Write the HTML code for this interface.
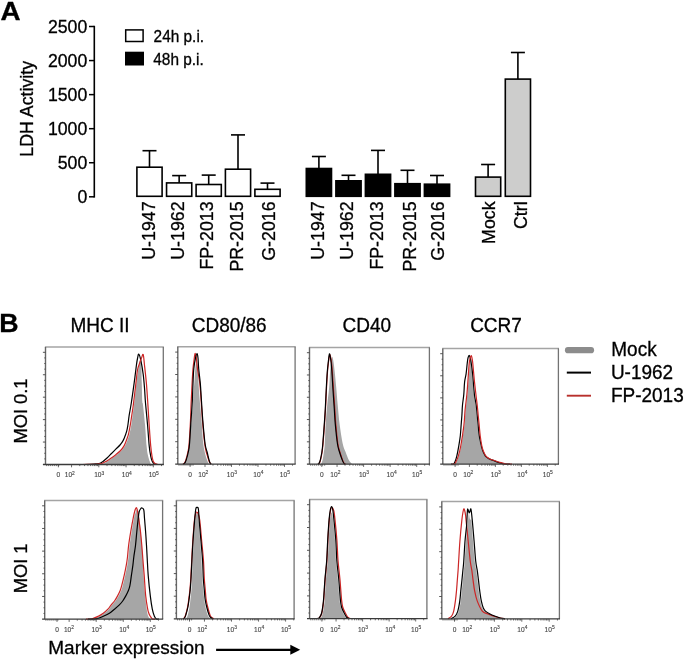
<!DOCTYPE html>
<html><head><meta charset="utf-8"><style>
html,body{margin:0;padding:0;background:#fff;}
body{width:685px;height:660px;overflow:hidden;}
svg{display:block;filter:blur(0.3px);font-family:"Liberation Sans",sans-serif;}
svg text{stroke:#000;stroke-width:.3px;}
svg g.tl text{stroke:#444;stroke-width:.12px;}
</style></head><body>
<svg width="685" height="660" viewBox="0 0 685 660">
<text transform="translate(0.5 19.5) scale(1.07 1)" font-size="26" font-weight="bold">A</text>
<line x1="94.30" y1="25.80" x2="94.30" y2="197.60" stroke="#000" stroke-width="1.6"/>
<line x1="89" y1="196.80" x2="94.30" y2="196.80" stroke="#000" stroke-width="1.5"/>
<text x="87.3" y="203.10" font-size="17.7" text-anchor="end">0</text>
<line x1="89" y1="162.74" x2="94.30" y2="162.74" stroke="#000" stroke-width="1.5"/>
<text x="87.3" y="169.04" font-size="17.7" text-anchor="end">500</text>
<line x1="89" y1="128.68" x2="94.30" y2="128.68" stroke="#000" stroke-width="1.5"/>
<text x="87.3" y="134.98" font-size="17.7" text-anchor="end">1000</text>
<line x1="89" y1="94.62" x2="94.30" y2="94.62" stroke="#000" stroke-width="1.5"/>
<text x="87.3" y="100.92" font-size="17.7" text-anchor="end">1500</text>
<line x1="89" y1="60.56" x2="94.30" y2="60.56" stroke="#000" stroke-width="1.5"/>
<text x="87.3" y="66.86" font-size="17.7" text-anchor="end">2000</text>
<line x1="89" y1="26.50" x2="94.30" y2="26.50" stroke="#000" stroke-width="1.5"/>
<text x="87.3" y="32.80" font-size="17.7" text-anchor="end">2500</text>
<text transform="translate(32.6 108.8) rotate(-90)" font-size="17.8" text-anchor="middle">LDH Activity</text>
<rect x="125.7" y="29.9" width="17.4" height="11.6" fill="#fff" stroke="#000" stroke-width="1.5"/>
<rect x="125" y="51.7" width="19" height="13.8" fill="#000"/>
<text transform="translate(153.6 41.6) scale(1 1.06)" font-size="15.4">24h p.i.</text>
<text transform="translate(153.3 64.5) scale(1 1.06)" font-size="15.4">48h p.i.</text>
<line x1="149.50" y1="150.70" x2="149.50" y2="167.20" stroke="#000" stroke-width="1.60"/><line x1="142.50" y1="150.70" x2="156.50" y2="150.70" stroke="#000" stroke-width="1.60"/><rect x="136.90" y="167.20" width="25.20" height="29.10" fill="#fff" stroke="#000" stroke-width="1.60"/>
<line x1="179.15" y1="175.60" x2="179.15" y2="182.90" stroke="#000" stroke-width="1.60"/><line x1="172.15" y1="175.60" x2="186.15" y2="175.60" stroke="#000" stroke-width="1.60"/><rect x="166.55" y="182.90" width="25.20" height="13.40" fill="#fff" stroke="#000" stroke-width="1.60"/>
<line x1="208.70" y1="175.10" x2="208.70" y2="184.50" stroke="#000" stroke-width="1.60"/><line x1="201.70" y1="175.10" x2="215.70" y2="175.10" stroke="#000" stroke-width="1.60"/><rect x="196.10" y="184.50" width="25.20" height="11.80" fill="#fff" stroke="#000" stroke-width="1.60"/>
<line x1="238.00" y1="134.90" x2="238.00" y2="169.20" stroke="#000" stroke-width="1.60"/><line x1="231.00" y1="134.90" x2="245.00" y2="134.90" stroke="#000" stroke-width="1.60"/><rect x="225.40" y="169.20" width="25.20" height="27.10" fill="#fff" stroke="#000" stroke-width="1.60"/>
<line x1="267.50" y1="183.10" x2="267.50" y2="189.30" stroke="#000" stroke-width="1.60"/><line x1="260.50" y1="183.10" x2="274.50" y2="183.10" stroke="#000" stroke-width="1.60"/><rect x="254.90" y="189.30" width="25.20" height="7.00" fill="#fff" stroke="#000" stroke-width="1.60"/>
<line x1="318.90" y1="156.50" x2="318.90" y2="168.50" stroke="#000" stroke-width="1.60"/><line x1="311.90" y1="156.50" x2="325.90" y2="156.50" stroke="#000" stroke-width="1.60"/><rect x="306.30" y="168.50" width="25.20" height="27.80" fill="#000" stroke="#000" stroke-width="1.60"/>
<line x1="348.50" y1="175.30" x2="348.50" y2="180.80" stroke="#000" stroke-width="1.60"/><line x1="341.50" y1="175.30" x2="355.50" y2="175.30" stroke="#000" stroke-width="1.60"/><rect x="335.90" y="180.80" width="25.20" height="15.50" fill="#000" stroke="#000" stroke-width="1.60"/>
<line x1="378.00" y1="150.40" x2="378.00" y2="174.30" stroke="#000" stroke-width="1.60"/><line x1="371.00" y1="150.40" x2="385.00" y2="150.40" stroke="#000" stroke-width="1.60"/><rect x="365.40" y="174.30" width="25.20" height="22.00" fill="#000" stroke="#000" stroke-width="1.60"/>
<line x1="407.50" y1="170.30" x2="407.50" y2="183.70" stroke="#000" stroke-width="1.60"/><line x1="400.50" y1="170.30" x2="414.50" y2="170.30" stroke="#000" stroke-width="1.60"/><rect x="394.90" y="183.70" width="25.20" height="12.60" fill="#000" stroke="#000" stroke-width="1.60"/>
<line x1="437.00" y1="175.50" x2="437.00" y2="184.20" stroke="#000" stroke-width="1.60"/><line x1="430.00" y1="175.50" x2="444.00" y2="175.50" stroke="#000" stroke-width="1.60"/><rect x="424.40" y="184.20" width="25.20" height="12.10" fill="#000" stroke="#000" stroke-width="1.60"/>
<line x1="488.10" y1="164.50" x2="488.10" y2="177.10" stroke="#000" stroke-width="1.60"/><line x1="481.10" y1="164.50" x2="495.10" y2="164.50" stroke="#000" stroke-width="1.60"/><rect x="475.50" y="177.10" width="25.20" height="19.20" fill="#cdcdcc" stroke="#000" stroke-width="1.60"/>
<line x1="517.90" y1="52.50" x2="517.90" y2="79.10" stroke="#000" stroke-width="1.60"/><line x1="510.90" y1="52.50" x2="524.90" y2="52.50" stroke="#000" stroke-width="1.60"/><rect x="505.30" y="79.10" width="25.20" height="117.20" fill="#cdcdcc" stroke="#000" stroke-width="1.60"/>
<text transform="translate(154.50 201.4) rotate(-90)" font-size="17.8" text-anchor="end">U-1947</text>
<text transform="translate(183.60 201.4) rotate(-90)" font-size="17.8" text-anchor="end">U-1962</text>
<text transform="translate(213.10 201.4) rotate(-90)" font-size="17.8" text-anchor="end">FP-2013</text>
<text transform="translate(242.90 201.4) rotate(-90)" font-size="17.8" text-anchor="end">PR-2015</text>
<text transform="translate(275.00 201.4) rotate(-90)" font-size="17.8" text-anchor="end">G-2016</text>
<text transform="translate(324.00 201.4) rotate(-90)" font-size="17.8" text-anchor="end">U-1947</text>
<text transform="translate(353.00 201.4) rotate(-90)" font-size="17.8" text-anchor="end">U-1962</text>
<text transform="translate(383.10 201.4) rotate(-90)" font-size="17.8" text-anchor="end">FP-2013</text>
<text transform="translate(416.00 201.4) rotate(-90)" font-size="17.8" text-anchor="end">PR-2015</text>
<text transform="translate(444.40 201.4) rotate(-90)" font-size="17.8" text-anchor="end">G-2016</text>
<text transform="translate(494.60 201.4) rotate(-90)" font-size="17.8" text-anchor="end">Mock</text>
<text transform="translate(526.80 201.4) rotate(-90)" font-size="17.8" text-anchor="end">Ctrl</text>
<text transform="translate(-0.7 332.2) scale(1.03 1)" font-size="26" font-weight="bold">B</text>
<text transform="translate(100 332.1) scale(1 1.04)" font-size="19" text-anchor="middle">MHC II</text>
<text transform="translate(229.2 332.1) scale(1 1.04)" font-size="19" text-anchor="middle">CD80/86</text>
<text transform="translate(366.8 332.1) scale(1 1.04)" font-size="19" text-anchor="middle">CD40</text>
<text transform="translate(496 332.1) scale(1 1.04)" font-size="19" text-anchor="middle">CCR7</text>
<text transform="translate(26.8 411) rotate(-90)" font-size="18.3" text-anchor="middle">MOI 0.1</text>
<text transform="translate(26.9 568.4) rotate(-90)" font-size="18.3" text-anchor="middle">MOI 1</text>
<line x1="568" y1="350.2" x2="591" y2="350.2" stroke="#8c8c8c" stroke-width="6.2" stroke-linecap="round"/>
<line x1="566.8" y1="372.6" x2="591" y2="372.6" stroke="#000" stroke-width="2"/>
<line x1="566.8" y1="395.7" x2="591" y2="395.7" stroke="#b8302c" stroke-width="1.9"/>
<text transform="translate(611.3 355.7) scale(1 1.06)" font-size="19">Mock</text>
<text transform="translate(610.9 378.8) scale(1 1.06)" font-size="19">U-1962</text>
<text transform="translate(610.9 401.5) scale(1 1.06)" font-size="19">FP-2013</text>
<text x="48.3" y="654.1" font-size="19">Marker expression</text>
<line x1="216.1" y1="649.8" x2="292" y2="649.8" stroke="#000" stroke-width="2.2"/>
<path d="M290.3 644.8 L300.2 649.8 L290.3 654.8 Z" fill="#000"/>
<rect x="45.50" y="347.00" width="117.80" height="117.50" fill="#fff" stroke="none"/>
<path d="M86.00 464.50 C87.67 464.45 93.20 464.37 96.00 464.20 C98.80 464.03 100.97 463.97 102.80 463.50 C104.63 463.03 105.48 462.27 107.00 461.40 C108.52 460.53 110.27 459.42 111.90 458.30 C113.53 457.18 115.18 456.00 116.80 454.70 C118.42 453.40 120.20 452.02 121.60 450.50 C123.00 448.98 124.18 447.43 125.20 445.60 C126.22 443.77 126.98 441.42 127.70 439.50 C128.42 437.58 128.90 436.52 129.50 434.10 C130.10 431.68 130.78 428.15 131.30 425.00 C131.82 421.85 132.15 418.53 132.60 415.20 C133.05 411.87 133.37 410.30 134.00 405.00 C134.63 399.70 135.70 389.23 136.40 383.40 C137.10 377.57 137.68 373.57 138.20 370.00 C138.72 366.43 139.12 363.83 139.50 362.00 C139.88 360.17 140.20 358.83 140.50 359.00 C140.80 359.17 141.08 358.93 141.30 363.00 C141.52 367.07 141.63 376.98 141.80 383.40 C141.97 389.82 142.10 397.90 142.30 401.50 C142.50 405.10 142.53 401.02 143.00 405.00 C143.47 408.98 144.50 418.58 145.10 425.40 C145.70 432.22 146.10 440.78 146.60 445.90 C147.10 451.02 147.42 453.12 148.10 456.10 C148.78 459.08 150.05 462.40 150.70 463.80 C151.35 465.20 151.78 464.38 152.00 464.50 Z" fill="#a6a6a6"/>
<path d="M80.00 464.50 C81.67 464.47 87.33 464.40 90.00 464.30 C92.67 464.20 94.33 464.07 96.00 463.90 C97.67 463.73 98.83 463.72 100.00 463.30 C101.17 462.88 101.78 462.33 103.00 461.40 C104.22 460.47 105.88 459.02 107.30 457.70 C108.72 456.38 110.08 454.92 111.50 453.50 C112.92 452.08 114.38 450.62 115.80 449.20 C117.22 447.78 118.88 446.27 120.00 445.00 C121.12 443.73 121.80 442.72 122.50 441.60 C123.20 440.48 123.50 440.05 124.20 438.30 C124.90 436.55 126.08 433.32 126.70 431.10 C127.32 428.88 127.48 427.65 127.90 425.00 C128.32 422.35 128.63 418.87 129.20 415.20 C129.77 411.53 130.48 408.30 131.30 403.00 C132.12 397.70 133.25 389.70 134.10 383.40 C134.95 377.10 135.82 369.43 136.40 365.20 C136.98 360.97 137.20 359.85 137.60 358.00 C138.00 356.15 138.25 353.67 138.80 354.10 C139.35 354.53 140.17 357.23 140.90 360.60 C141.63 363.97 142.60 369.75 143.20 374.30 C143.80 378.85 144.12 383.12 144.50 387.90 C144.88 392.68 144.98 396.75 145.50 403.00 C146.02 409.25 146.98 418.25 147.60 425.40 C148.22 432.55 148.68 440.78 149.20 445.90 C149.72 451.02 150.20 453.55 150.70 456.10 C151.20 458.65 151.60 459.92 152.20 461.20 C152.80 462.48 153.50 463.25 154.30 463.80 C155.10 464.35 156.55 464.38 157.00 464.50" fill="none" stroke="#000" stroke-width="1.2" stroke-linejoin="round"/>
<path d="M82.00 464.50 C83.67 464.47 89.33 464.38 92.00 464.30 C94.67 464.22 96.37 464.13 98.00 464.00 C99.63 463.87 100.47 463.93 101.80 463.50 C103.13 463.07 104.48 462.27 106.00 461.40 C107.52 460.53 109.27 459.42 110.90 458.30 C112.53 457.18 114.18 456.00 115.80 454.70 C117.42 453.40 119.20 452.02 120.60 450.50 C122.00 448.98 123.18 447.43 124.20 445.60 C125.22 443.77 125.98 441.42 126.70 439.50 C127.42 437.58 127.90 436.52 128.50 434.10 C129.10 431.68 129.75 428.15 130.30 425.00 C130.85 421.85 131.30 418.53 131.80 415.20 C132.30 411.87 132.62 410.30 133.30 405.00 C133.98 399.70 135.20 389.23 135.90 383.40 C136.60 377.57 136.90 373.33 137.50 370.00 C138.10 366.67 138.83 365.40 139.50 363.40 C140.17 361.40 140.88 359.48 141.50 358.00 C142.12 356.52 142.70 353.30 143.20 354.50 C143.70 355.70 143.97 360.38 144.50 365.20 C145.03 370.02 145.87 377.35 146.40 383.40 C146.93 389.45 147.23 394.50 147.70 401.50 C148.17 408.50 148.70 418.00 149.20 425.40 C149.70 432.80 150.23 440.78 150.70 445.90 C151.17 451.02 151.58 453.55 152.00 456.10 C152.42 458.65 152.65 459.92 153.20 461.20 C153.75 462.48 154.50 463.25 155.30 463.80 C156.10 464.35 157.55 464.38 158.00 464.50" fill="none" stroke="#cc2626" stroke-width="1.2" stroke-linejoin="round"/>
<line x1="44.90" y1="347.00" x2="163.90" y2="347.00" stroke="#a4a4a4" stroke-width="1.5"/>
<line x1="163.30" y1="347.00" x2="163.30" y2="464.50" stroke="#737373" stroke-width="1.3"/>
<line x1="45.50" y1="347.00" x2="45.50" y2="464.50" stroke="#666" stroke-width="1.4"/>
<line x1="42.90" y1="464.50" x2="163.90" y2="464.50" stroke="#3a3a3a" stroke-width="1.3"/>
<line x1="42.90" y1="352.30" x2="45.50" y2="352.30" stroke="#444" stroke-width="0.9"/>
<line x1="44.30" y1="357.91" x2="45.50" y2="357.91" stroke="#444" stroke-width="0.9"/>
<line x1="44.30" y1="363.52" x2="45.50" y2="363.52" stroke="#444" stroke-width="0.9"/>
<line x1="44.30" y1="369.13" x2="45.50" y2="369.13" stroke="#444" stroke-width="0.9"/>
<line x1="42.90" y1="374.74" x2="45.50" y2="374.74" stroke="#444" stroke-width="0.9"/>
<line x1="44.30" y1="380.35" x2="45.50" y2="380.35" stroke="#444" stroke-width="0.9"/>
<line x1="44.30" y1="385.96" x2="45.50" y2="385.96" stroke="#444" stroke-width="0.9"/>
<line x1="44.30" y1="391.57" x2="45.50" y2="391.57" stroke="#444" stroke-width="0.9"/>
<line x1="42.90" y1="397.18" x2="45.50" y2="397.18" stroke="#444" stroke-width="0.9"/>
<line x1="44.30" y1="402.79" x2="45.50" y2="402.79" stroke="#444" stroke-width="0.9"/>
<line x1="44.30" y1="408.40" x2="45.50" y2="408.40" stroke="#444" stroke-width="0.9"/>
<line x1="44.30" y1="414.01" x2="45.50" y2="414.01" stroke="#444" stroke-width="0.9"/>
<line x1="42.90" y1="419.62" x2="45.50" y2="419.62" stroke="#444" stroke-width="0.9"/>
<line x1="44.30" y1="425.23" x2="45.50" y2="425.23" stroke="#444" stroke-width="0.9"/>
<line x1="44.30" y1="430.84" x2="45.50" y2="430.84" stroke="#444" stroke-width="0.9"/>
<line x1="44.30" y1="436.45" x2="45.50" y2="436.45" stroke="#444" stroke-width="0.9"/>
<line x1="42.90" y1="442.06" x2="45.50" y2="442.06" stroke="#444" stroke-width="0.9"/>
<line x1="44.30" y1="447.67" x2="45.50" y2="447.67" stroke="#444" stroke-width="0.9"/>
<line x1="44.30" y1="453.28" x2="45.50" y2="453.28" stroke="#444" stroke-width="0.9"/>
<line x1="44.30" y1="458.89" x2="45.50" y2="458.89" stroke="#444" stroke-width="0.9"/>
<line x1="46.70" y1="464.50" x2="46.70" y2="466.10" stroke="#444" stroke-width="0.8"/>
<line x1="48.70" y1="464.50" x2="48.70" y2="466.10" stroke="#444" stroke-width="0.8"/>
<line x1="50.70" y1="464.50" x2="50.70" y2="466.10" stroke="#444" stroke-width="0.8"/>
<line x1="52.70" y1="464.50" x2="52.70" y2="466.10" stroke="#444" stroke-width="0.8"/>
<line x1="54.70" y1="464.50" x2="54.70" y2="466.10" stroke="#444" stroke-width="0.8"/>
<line x1="56.70" y1="464.50" x2="56.70" y2="466.10" stroke="#444" stroke-width="0.8"/>
<line x1="58.70" y1="464.50" x2="58.70" y2="466.10" stroke="#444" stroke-width="0.8"/>
<line x1="58.40" y1="464.50" x2="58.40" y2="467.30" stroke="#444" stroke-width="0.8"/>
<line x1="71.55" y1="464.50" x2="71.55" y2="467.30" stroke="#444" stroke-width="0.8"/>
<line x1="79.75" y1="464.50" x2="79.75" y2="466.10" stroke="#444" stroke-width="0.8"/>
<line x1="84.55" y1="464.50" x2="84.55" y2="466.10" stroke="#444" stroke-width="0.8"/>
<line x1="87.96" y1="464.50" x2="87.96" y2="466.10" stroke="#444" stroke-width="0.8"/>
<line x1="90.60" y1="464.50" x2="90.60" y2="466.10" stroke="#444" stroke-width="0.8"/>
<line x1="92.75" y1="464.50" x2="92.75" y2="466.10" stroke="#444" stroke-width="0.8"/>
<line x1="94.58" y1="464.50" x2="94.58" y2="466.10" stroke="#444" stroke-width="0.8"/>
<line x1="96.16" y1="464.50" x2="96.16" y2="466.10" stroke="#444" stroke-width="0.8"/>
<line x1="97.55" y1="464.50" x2="97.55" y2="466.10" stroke="#444" stroke-width="0.8"/>
<line x1="98.80" y1="464.50" x2="98.80" y2="467.30" stroke="#444" stroke-width="0.8"/>
<line x1="107.00" y1="464.50" x2="107.00" y2="466.10" stroke="#444" stroke-width="0.8"/>
<line x1="111.80" y1="464.50" x2="111.80" y2="466.10" stroke="#444" stroke-width="0.8"/>
<line x1="115.21" y1="464.50" x2="115.21" y2="466.10" stroke="#444" stroke-width="0.8"/>
<line x1="117.85" y1="464.50" x2="117.85" y2="466.10" stroke="#444" stroke-width="0.8"/>
<line x1="120.00" y1="464.50" x2="120.00" y2="466.10" stroke="#444" stroke-width="0.8"/>
<line x1="121.83" y1="464.50" x2="121.83" y2="466.10" stroke="#444" stroke-width="0.8"/>
<line x1="123.41" y1="464.50" x2="123.41" y2="466.10" stroke="#444" stroke-width="0.8"/>
<line x1="124.80" y1="464.50" x2="124.80" y2="466.10" stroke="#444" stroke-width="0.8"/>
<line x1="126.05" y1="464.50" x2="126.05" y2="467.30" stroke="#444" stroke-width="0.8"/>
<line x1="134.25" y1="464.50" x2="134.25" y2="466.10" stroke="#444" stroke-width="0.8"/>
<line x1="139.05" y1="464.50" x2="139.05" y2="466.10" stroke="#444" stroke-width="0.8"/>
<line x1="142.46" y1="464.50" x2="142.46" y2="466.10" stroke="#444" stroke-width="0.8"/>
<line x1="145.10" y1="464.50" x2="145.10" y2="466.10" stroke="#444" stroke-width="0.8"/>
<line x1="147.25" y1="464.50" x2="147.25" y2="466.10" stroke="#444" stroke-width="0.8"/>
<line x1="149.08" y1="464.50" x2="149.08" y2="466.10" stroke="#444" stroke-width="0.8"/>
<line x1="150.66" y1="464.50" x2="150.66" y2="466.10" stroke="#444" stroke-width="0.8"/>
<line x1="152.05" y1="464.50" x2="152.05" y2="466.10" stroke="#444" stroke-width="0.8"/>
<line x1="153.30" y1="464.50" x2="153.30" y2="467.30" stroke="#444" stroke-width="0.8"/>
<line x1="161.50" y1="464.50" x2="161.50" y2="466.10" stroke="#444" stroke-width="0.8"/>
<g class="tl" font-size="6.6" fill="#444" text-anchor="middle">
<text x="58.40" y="477.40">0</text>
<text x="69.80" y="477.40">10<tspan font-size="4.9" dy="-2.9">2</tspan></text>
<text x="99.20" y="477.40">10<tspan font-size="4.9" dy="-2.9">3</tspan></text>
<text x="126.80" y="477.40">10<tspan font-size="4.9" dy="-2.9">4</tspan></text>
<text x="153.70" y="477.40">10<tspan font-size="4.9" dy="-2.9">5</tspan></text>
</g>
<rect x="177.80" y="346.80" width="117.30" height="117.30" fill="#fff" stroke="none"/>
<path d="M184.50 464.10 C184.83 463.58 185.85 463.02 186.50 461.00 C187.15 458.98 187.87 455.30 188.40 452.00 C188.93 448.70 189.18 446.53 189.70 441.20 C190.22 435.87 190.95 426.87 191.50 420.00 C192.05 413.13 192.50 406.67 193.00 400.00 C193.50 393.33 194.08 385.67 194.50 380.00 C194.92 374.33 195.20 369.00 195.50 366.00 C195.80 363.00 196.02 362.00 196.30 362.00 C196.58 362.00 196.87 363.00 197.20 366.00 C197.53 369.00 197.88 374.33 198.30 380.00 C198.72 385.67 199.17 393.33 199.70 400.00 C200.23 406.67 200.95 413.13 201.50 420.00 C202.05 426.87 202.47 435.87 203.00 441.20 C203.53 446.53 204.02 448.85 204.70 452.00 C205.38 455.15 206.42 458.08 207.10 460.10 C207.78 462.12 208.52 463.43 208.80 464.10 Z" fill="#a6a6a6"/>
<path d="M182.80 464.10 C183.03 463.98 183.70 464.07 184.20 463.40 C184.70 462.73 185.18 462.00 185.80 460.10 C186.42 458.20 187.35 454.68 187.90 452.00 C188.45 449.32 188.67 449.23 189.10 444.00 C189.53 438.77 190.15 427.68 190.50 420.60 C190.85 413.52 190.93 407.70 191.20 401.50 C191.47 395.30 191.80 388.85 192.10 383.40 C192.40 377.95 192.63 373.03 193.00 368.80 C193.37 364.57 193.95 360.57 194.30 358.00 C194.65 355.43 194.77 353.40 195.10 353.40 C195.43 353.40 195.90 355.43 196.30 358.00 C196.70 360.57 196.92 364.57 197.50 368.80 C198.08 373.03 199.18 377.95 199.80 383.40 C200.42 388.85 200.75 395.30 201.20 401.50 C201.65 407.70 201.95 413.85 202.50 420.60 C203.05 427.35 203.95 437.10 204.50 442.00 C205.05 446.90 205.28 447.58 205.80 450.00 C206.32 452.42 207.02 454.53 207.60 456.50 C208.18 458.47 208.73 460.53 209.30 461.80 C209.87 463.07 210.72 463.72 211.00 464.10" fill="none" stroke="#cc2626" stroke-width="1.2" stroke-linejoin="round"/>
<path d="M183.20 464.10 C183.43 463.98 184.10 464.07 184.60 463.40 C185.10 462.73 185.58 462.00 186.20 460.10 C186.82 458.20 187.75 454.68 188.30 452.00 C188.85 449.32 189.05 449.23 189.50 444.00 C189.95 438.77 190.53 427.68 191.00 420.60 C191.47 413.52 191.97 407.70 192.30 401.50 C192.63 395.30 192.75 388.85 193.00 383.40 C193.25 377.95 193.38 373.03 193.80 368.80 C194.22 364.57 194.95 360.55 195.50 358.00 C196.05 355.45 196.68 353.50 197.10 353.50 C197.52 353.50 197.73 355.45 198.00 358.00 C198.27 360.55 198.32 364.57 198.70 368.80 C199.08 373.03 199.83 377.95 200.30 383.40 C200.77 388.85 201.08 395.30 201.50 401.50 C201.92 407.70 202.20 413.52 202.80 420.60 C203.40 427.68 204.38 438.77 205.10 444.00 C205.82 449.23 206.43 449.32 207.10 452.00 C207.77 454.68 208.58 458.23 209.10 460.10 C209.62 461.97 209.85 462.53 210.20 463.20 C210.55 463.87 211.03 463.95 211.20 464.10" fill="none" stroke="#000" stroke-width="1.2" stroke-linejoin="round"/>
<line x1="177.20" y1="346.80" x2="295.70" y2="346.80" stroke="#a4a4a4" stroke-width="1.5"/>
<line x1="295.10" y1="346.80" x2="295.10" y2="464.10" stroke="#737373" stroke-width="1.3"/>
<line x1="177.80" y1="346.80" x2="177.80" y2="464.10" stroke="#666" stroke-width="1.4"/>
<line x1="175.20" y1="464.10" x2="295.70" y2="464.10" stroke="#3a3a3a" stroke-width="1.3"/>
<line x1="175.20" y1="352.10" x2="177.80" y2="352.10" stroke="#444" stroke-width="0.9"/>
<line x1="176.60" y1="357.70" x2="177.80" y2="357.70" stroke="#444" stroke-width="0.9"/>
<line x1="176.60" y1="363.30" x2="177.80" y2="363.30" stroke="#444" stroke-width="0.9"/>
<line x1="176.60" y1="368.90" x2="177.80" y2="368.90" stroke="#444" stroke-width="0.9"/>
<line x1="175.20" y1="374.50" x2="177.80" y2="374.50" stroke="#444" stroke-width="0.9"/>
<line x1="176.60" y1="380.10" x2="177.80" y2="380.10" stroke="#444" stroke-width="0.9"/>
<line x1="176.60" y1="385.70" x2="177.80" y2="385.70" stroke="#444" stroke-width="0.9"/>
<line x1="176.60" y1="391.30" x2="177.80" y2="391.30" stroke="#444" stroke-width="0.9"/>
<line x1="175.20" y1="396.90" x2="177.80" y2="396.90" stroke="#444" stroke-width="0.9"/>
<line x1="176.60" y1="402.50" x2="177.80" y2="402.50" stroke="#444" stroke-width="0.9"/>
<line x1="176.60" y1="408.10" x2="177.80" y2="408.10" stroke="#444" stroke-width="0.9"/>
<line x1="176.60" y1="413.70" x2="177.80" y2="413.70" stroke="#444" stroke-width="0.9"/>
<line x1="175.20" y1="419.30" x2="177.80" y2="419.30" stroke="#444" stroke-width="0.9"/>
<line x1="176.60" y1="424.90" x2="177.80" y2="424.90" stroke="#444" stroke-width="0.9"/>
<line x1="176.60" y1="430.50" x2="177.80" y2="430.50" stroke="#444" stroke-width="0.9"/>
<line x1="176.60" y1="436.10" x2="177.80" y2="436.10" stroke="#444" stroke-width="0.9"/>
<line x1="175.20" y1="441.70" x2="177.80" y2="441.70" stroke="#444" stroke-width="0.9"/>
<line x1="176.60" y1="447.30" x2="177.80" y2="447.30" stroke="#444" stroke-width="0.9"/>
<line x1="176.60" y1="452.90" x2="177.80" y2="452.90" stroke="#444" stroke-width="0.9"/>
<line x1="176.60" y1="458.50" x2="177.80" y2="458.50" stroke="#444" stroke-width="0.9"/>
<line x1="179.00" y1="464.10" x2="179.00" y2="465.70" stroke="#444" stroke-width="0.8"/>
<line x1="181.00" y1="464.10" x2="181.00" y2="465.70" stroke="#444" stroke-width="0.8"/>
<line x1="183.00" y1="464.10" x2="183.00" y2="465.70" stroke="#444" stroke-width="0.8"/>
<line x1="185.00" y1="464.10" x2="185.00" y2="465.70" stroke="#444" stroke-width="0.8"/>
<line x1="187.00" y1="464.10" x2="187.00" y2="465.70" stroke="#444" stroke-width="0.8"/>
<line x1="189.00" y1="464.10" x2="189.00" y2="465.70" stroke="#444" stroke-width="0.8"/>
<line x1="191.00" y1="464.10" x2="191.00" y2="465.70" stroke="#444" stroke-width="0.8"/>
<line x1="193.00" y1="464.10" x2="193.00" y2="465.70" stroke="#444" stroke-width="0.8"/>
<line x1="190.10" y1="464.10" x2="190.10" y2="466.90" stroke="#444" stroke-width="0.8"/>
<line x1="205.00" y1="464.10" x2="205.00" y2="466.90" stroke="#444" stroke-width="0.8"/>
<line x1="212.98" y1="464.10" x2="212.98" y2="465.70" stroke="#444" stroke-width="0.8"/>
<line x1="217.64" y1="464.10" x2="217.64" y2="465.70" stroke="#444" stroke-width="0.8"/>
<line x1="220.95" y1="464.10" x2="220.95" y2="465.70" stroke="#444" stroke-width="0.8"/>
<line x1="223.52" y1="464.10" x2="223.52" y2="465.70" stroke="#444" stroke-width="0.8"/>
<line x1="225.62" y1="464.10" x2="225.62" y2="465.70" stroke="#444" stroke-width="0.8"/>
<line x1="227.40" y1="464.10" x2="227.40" y2="465.70" stroke="#444" stroke-width="0.8"/>
<line x1="228.93" y1="464.10" x2="228.93" y2="465.70" stroke="#444" stroke-width="0.8"/>
<line x1="230.29" y1="464.10" x2="230.29" y2="465.70" stroke="#444" stroke-width="0.8"/>
<line x1="231.50" y1="464.10" x2="231.50" y2="466.90" stroke="#444" stroke-width="0.8"/>
<line x1="239.48" y1="464.10" x2="239.48" y2="465.70" stroke="#444" stroke-width="0.8"/>
<line x1="244.14" y1="464.10" x2="244.14" y2="465.70" stroke="#444" stroke-width="0.8"/>
<line x1="247.45" y1="464.10" x2="247.45" y2="465.70" stroke="#444" stroke-width="0.8"/>
<line x1="250.02" y1="464.10" x2="250.02" y2="465.70" stroke="#444" stroke-width="0.8"/>
<line x1="252.12" y1="464.10" x2="252.12" y2="465.70" stroke="#444" stroke-width="0.8"/>
<line x1="253.90" y1="464.10" x2="253.90" y2="465.70" stroke="#444" stroke-width="0.8"/>
<line x1="255.43" y1="464.10" x2="255.43" y2="465.70" stroke="#444" stroke-width="0.8"/>
<line x1="256.79" y1="464.10" x2="256.79" y2="465.70" stroke="#444" stroke-width="0.8"/>
<line x1="258.00" y1="464.10" x2="258.00" y2="466.90" stroke="#444" stroke-width="0.8"/>
<line x1="265.98" y1="464.10" x2="265.98" y2="465.70" stroke="#444" stroke-width="0.8"/>
<line x1="270.64" y1="464.10" x2="270.64" y2="465.70" stroke="#444" stroke-width="0.8"/>
<line x1="273.95" y1="464.10" x2="273.95" y2="465.70" stroke="#444" stroke-width="0.8"/>
<line x1="276.52" y1="464.10" x2="276.52" y2="465.70" stroke="#444" stroke-width="0.8"/>
<line x1="278.62" y1="464.10" x2="278.62" y2="465.70" stroke="#444" stroke-width="0.8"/>
<line x1="280.40" y1="464.10" x2="280.40" y2="465.70" stroke="#444" stroke-width="0.8"/>
<line x1="281.93" y1="464.10" x2="281.93" y2="465.70" stroke="#444" stroke-width="0.8"/>
<line x1="283.29" y1="464.10" x2="283.29" y2="465.70" stroke="#444" stroke-width="0.8"/>
<line x1="284.50" y1="464.10" x2="284.50" y2="466.90" stroke="#444" stroke-width="0.8"/>
<line x1="292.48" y1="464.10" x2="292.48" y2="465.70" stroke="#444" stroke-width="0.8"/>
<g class="tl" font-size="6.6" fill="#444" text-anchor="middle">
<text x="190.10" y="477.00">0</text>
<text x="203.30" y="477.00">10<tspan font-size="4.9" dy="-2.9">2</tspan></text>
<text x="231.90" y="477.00">10<tspan font-size="4.9" dy="-2.9">3</tspan></text>
<text x="258.40" y="477.00">10<tspan font-size="4.9" dy="-2.9">4</tspan></text>
<text x="284.90" y="477.00">10<tspan font-size="4.9" dy="-2.9">5</tspan></text>
</g>
<rect x="309.50" y="347.40" width="119.90" height="116.70" fill="#fff" stroke="none"/>
<path d="M320.20 464.20 C320.37 464.10 320.80 464.28 321.20 463.60 C321.60 462.92 322.15 462.03 322.60 460.10 C323.05 458.17 323.53 454.68 323.90 452.00 C324.27 449.32 324.50 448.65 324.80 444.00 C325.10 439.35 325.30 430.60 325.70 424.10 C326.10 417.60 326.63 411.02 327.20 405.00 C327.77 398.98 328.62 393.55 329.10 388.00 C329.58 382.45 329.78 376.03 330.10 371.70 C330.42 367.37 330.65 364.48 331.00 362.00 C331.35 359.52 331.78 356.80 332.20 356.80 C332.62 356.80 333.08 359.52 333.50 362.00 C333.92 364.48 334.23 367.33 334.70 371.70 C335.17 376.07 335.80 382.65 336.30 388.20 C336.80 393.75 337.15 399.02 337.70 405.00 C338.25 410.98 338.75 417.60 339.60 424.10 C340.45 430.60 341.80 439.35 342.80 444.00 C343.80 448.65 344.60 449.32 345.60 452.00 C346.60 454.68 347.82 458.20 348.80 460.10 C349.78 462.00 350.72 462.72 351.50 463.40 C352.28 464.08 353.17 464.07 353.50 464.20 Z" fill="#a6a6a6"/>
<path d="M318.10 464.20 C318.27 464.10 318.70 464.28 319.10 463.60 C319.50 462.92 320.00 462.03 320.50 460.10 C321.00 458.17 321.68 454.68 322.10 452.00 C322.52 449.32 322.60 448.65 323.00 444.00 C323.40 439.35 324.08 429.95 324.50 424.10 C324.92 418.25 325.17 414.88 325.50 408.90 C325.83 402.92 326.17 394.40 326.50 388.20 C326.83 382.00 327.17 376.07 327.50 371.70 C327.83 367.33 328.15 364.78 328.50 362.00 C328.85 359.22 329.25 355.83 329.60 355.00 C329.95 354.17 330.28 355.75 330.60 357.00 C330.92 358.25 331.22 360.05 331.50 362.50 C331.78 364.95 331.98 367.42 332.30 371.70 C332.62 375.98 332.98 382.00 333.40 388.20 C333.82 394.40 334.40 402.92 334.80 408.90 C335.20 414.88 335.28 418.25 335.80 424.10 C336.32 429.95 337.22 439.35 337.90 444.00 C338.58 448.65 339.12 449.32 339.90 452.00 C340.68 454.68 341.87 458.18 342.60 460.10 C343.33 462.02 343.80 462.82 344.30 463.50 C344.80 464.18 345.38 464.08 345.60 464.20" fill="none" stroke="#cc2626" stroke-width="1.2" stroke-linejoin="round"/>
<path d="M317.90 464.20 C318.07 464.10 318.50 464.28 318.90 463.60 C319.30 462.92 319.80 462.03 320.30 460.10 C320.80 458.17 321.48 454.68 321.90 452.00 C322.32 449.32 322.40 448.65 322.80 444.00 C323.20 439.35 323.88 429.95 324.30 424.10 C324.72 418.25 324.97 414.88 325.30 408.90 C325.63 402.92 325.97 394.40 326.30 388.20 C326.63 382.00 326.97 376.07 327.30 371.70 C327.63 367.33 327.95 364.95 328.30 362.00 C328.65 359.05 329.07 354.83 329.40 354.00 C329.73 353.17 330.02 355.58 330.30 357.00 C330.58 358.42 330.83 360.05 331.10 362.50 C331.37 364.95 331.60 367.42 331.90 371.70 C332.20 375.98 332.50 382.00 332.90 388.20 C333.30 394.40 333.90 402.92 334.30 408.90 C334.70 414.88 334.77 418.25 335.30 424.10 C335.83 429.95 336.80 439.35 337.50 444.00 C338.20 448.65 338.70 449.32 339.50 452.00 C340.30 454.68 341.55 458.18 342.30 460.10 C343.05 462.02 343.52 462.82 344.00 463.50 C344.48 464.18 345.00 464.08 345.20 464.20" fill="none" stroke="#000" stroke-width="1.2" stroke-linejoin="round"/>
<line x1="308.90" y1="347.40" x2="430.00" y2="347.40" stroke="#a4a4a4" stroke-width="1.5"/>
<line x1="429.40" y1="347.40" x2="429.40" y2="464.10" stroke="#737373" stroke-width="1.3"/>
<line x1="309.50" y1="347.40" x2="309.50" y2="464.10" stroke="#666" stroke-width="1.4"/>
<line x1="306.90" y1="464.10" x2="430.00" y2="464.10" stroke="#3a3a3a" stroke-width="1.3"/>
<line x1="306.90" y1="352.70" x2="309.50" y2="352.70" stroke="#444" stroke-width="0.9"/>
<line x1="308.30" y1="358.27" x2="309.50" y2="358.27" stroke="#444" stroke-width="0.9"/>
<line x1="308.30" y1="363.84" x2="309.50" y2="363.84" stroke="#444" stroke-width="0.9"/>
<line x1="308.30" y1="369.41" x2="309.50" y2="369.41" stroke="#444" stroke-width="0.9"/>
<line x1="306.90" y1="374.98" x2="309.50" y2="374.98" stroke="#444" stroke-width="0.9"/>
<line x1="308.30" y1="380.55" x2="309.50" y2="380.55" stroke="#444" stroke-width="0.9"/>
<line x1="308.30" y1="386.12" x2="309.50" y2="386.12" stroke="#444" stroke-width="0.9"/>
<line x1="308.30" y1="391.69" x2="309.50" y2="391.69" stroke="#444" stroke-width="0.9"/>
<line x1="306.90" y1="397.26" x2="309.50" y2="397.26" stroke="#444" stroke-width="0.9"/>
<line x1="308.30" y1="402.83" x2="309.50" y2="402.83" stroke="#444" stroke-width="0.9"/>
<line x1="308.30" y1="408.40" x2="309.50" y2="408.40" stroke="#444" stroke-width="0.9"/>
<line x1="308.30" y1="413.97" x2="309.50" y2="413.97" stroke="#444" stroke-width="0.9"/>
<line x1="306.90" y1="419.54" x2="309.50" y2="419.54" stroke="#444" stroke-width="0.9"/>
<line x1="308.30" y1="425.11" x2="309.50" y2="425.11" stroke="#444" stroke-width="0.9"/>
<line x1="308.30" y1="430.68" x2="309.50" y2="430.68" stroke="#444" stroke-width="0.9"/>
<line x1="308.30" y1="436.25" x2="309.50" y2="436.25" stroke="#444" stroke-width="0.9"/>
<line x1="306.90" y1="441.82" x2="309.50" y2="441.82" stroke="#444" stroke-width="0.9"/>
<line x1="308.30" y1="447.39" x2="309.50" y2="447.39" stroke="#444" stroke-width="0.9"/>
<line x1="308.30" y1="452.96" x2="309.50" y2="452.96" stroke="#444" stroke-width="0.9"/>
<line x1="308.30" y1="458.53" x2="309.50" y2="458.53" stroke="#444" stroke-width="0.9"/>
<line x1="310.70" y1="464.10" x2="310.70" y2="465.70" stroke="#444" stroke-width="0.8"/>
<line x1="312.70" y1="464.10" x2="312.70" y2="465.70" stroke="#444" stroke-width="0.8"/>
<line x1="314.70" y1="464.10" x2="314.70" y2="465.70" stroke="#444" stroke-width="0.8"/>
<line x1="316.70" y1="464.10" x2="316.70" y2="465.70" stroke="#444" stroke-width="0.8"/>
<line x1="318.70" y1="464.10" x2="318.70" y2="465.70" stroke="#444" stroke-width="0.8"/>
<line x1="320.70" y1="464.10" x2="320.70" y2="465.70" stroke="#444" stroke-width="0.8"/>
<line x1="322.70" y1="464.10" x2="322.70" y2="465.70" stroke="#444" stroke-width="0.8"/>
<line x1="324.70" y1="464.10" x2="324.70" y2="465.70" stroke="#444" stroke-width="0.8"/>
<line x1="321.80" y1="464.10" x2="321.80" y2="466.90" stroke="#444" stroke-width="0.8"/>
<line x1="337.05" y1="464.10" x2="337.05" y2="466.90" stroke="#444" stroke-width="0.8"/>
<line x1="345.04" y1="464.10" x2="345.04" y2="465.70" stroke="#444" stroke-width="0.8"/>
<line x1="349.72" y1="464.10" x2="349.72" y2="465.70" stroke="#444" stroke-width="0.8"/>
<line x1="353.03" y1="464.10" x2="353.03" y2="465.70" stroke="#444" stroke-width="0.8"/>
<line x1="355.61" y1="464.10" x2="355.61" y2="465.70" stroke="#444" stroke-width="0.8"/>
<line x1="357.71" y1="464.10" x2="357.71" y2="465.70" stroke="#444" stroke-width="0.8"/>
<line x1="359.49" y1="464.10" x2="359.49" y2="465.70" stroke="#444" stroke-width="0.8"/>
<line x1="361.03" y1="464.10" x2="361.03" y2="465.70" stroke="#444" stroke-width="0.8"/>
<line x1="362.39" y1="464.10" x2="362.39" y2="465.70" stroke="#444" stroke-width="0.8"/>
<line x1="363.60" y1="464.10" x2="363.60" y2="466.90" stroke="#444" stroke-width="0.8"/>
<line x1="371.59" y1="464.10" x2="371.59" y2="465.70" stroke="#444" stroke-width="0.8"/>
<line x1="376.27" y1="464.10" x2="376.27" y2="465.70" stroke="#444" stroke-width="0.8"/>
<line x1="379.58" y1="464.10" x2="379.58" y2="465.70" stroke="#444" stroke-width="0.8"/>
<line x1="382.16" y1="464.10" x2="382.16" y2="465.70" stroke="#444" stroke-width="0.8"/>
<line x1="384.26" y1="464.10" x2="384.26" y2="465.70" stroke="#444" stroke-width="0.8"/>
<line x1="386.04" y1="464.10" x2="386.04" y2="465.70" stroke="#444" stroke-width="0.8"/>
<line x1="387.58" y1="464.10" x2="387.58" y2="465.70" stroke="#444" stroke-width="0.8"/>
<line x1="388.94" y1="464.10" x2="388.94" y2="465.70" stroke="#444" stroke-width="0.8"/>
<line x1="390.15" y1="464.10" x2="390.15" y2="466.90" stroke="#444" stroke-width="0.8"/>
<line x1="398.14" y1="464.10" x2="398.14" y2="465.70" stroke="#444" stroke-width="0.8"/>
<line x1="402.82" y1="464.10" x2="402.82" y2="465.70" stroke="#444" stroke-width="0.8"/>
<line x1="406.13" y1="464.10" x2="406.13" y2="465.70" stroke="#444" stroke-width="0.8"/>
<line x1="408.71" y1="464.10" x2="408.71" y2="465.70" stroke="#444" stroke-width="0.8"/>
<line x1="410.81" y1="464.10" x2="410.81" y2="465.70" stroke="#444" stroke-width="0.8"/>
<line x1="412.59" y1="464.10" x2="412.59" y2="465.70" stroke="#444" stroke-width="0.8"/>
<line x1="414.13" y1="464.10" x2="414.13" y2="465.70" stroke="#444" stroke-width="0.8"/>
<line x1="415.49" y1="464.10" x2="415.49" y2="465.70" stroke="#444" stroke-width="0.8"/>
<line x1="416.70" y1="464.10" x2="416.70" y2="466.90" stroke="#444" stroke-width="0.8"/>
<line x1="424.69" y1="464.10" x2="424.69" y2="465.70" stroke="#444" stroke-width="0.8"/>
<line x1="429.37" y1="464.10" x2="429.37" y2="465.70" stroke="#444" stroke-width="0.8"/>
<g class="tl" font-size="6.6" fill="#444" text-anchor="middle">
<text x="321.80" y="477.00">0</text>
<text x="335.40" y="477.00">10<tspan font-size="4.9" dy="-2.9">2</tspan></text>
<text x="364.00" y="477.00">10<tspan font-size="4.9" dy="-2.9">3</tspan></text>
<text x="391.60" y="477.00">10<tspan font-size="4.9" dy="-2.9">4</tspan></text>
<text x="417.10" y="477.00">10<tspan font-size="4.9" dy="-2.9">5</tspan></text>
</g>
<rect x="442.80" y="348.40" width="115.60" height="115.70" fill="#fff" stroke="none"/>
<path d="M453.00 464.10 C453.37 464.08 454.58 464.48 455.20 464.00 C455.82 463.52 456.10 462.52 456.70 461.20 C457.30 459.88 458.03 458.65 458.80 456.10 C459.57 453.55 460.37 451.02 461.30 445.90 C462.23 440.78 463.68 431.40 464.40 425.40 C465.12 419.40 465.10 415.07 465.60 409.90 C466.10 404.73 466.92 399.38 467.40 394.40 C467.88 389.42 468.13 384.73 468.50 380.00 C468.87 375.27 469.30 369.45 469.60 366.00 C469.90 362.55 470.07 359.80 470.30 359.30 C470.53 358.80 470.75 361.22 471.00 363.00 C471.25 364.78 471.32 364.77 471.80 370.00 C472.28 375.23 473.25 388.57 473.90 394.40 C474.55 400.23 475.23 401.53 475.70 405.00 C476.17 408.47 476.37 411.80 476.70 415.20 C477.03 418.60 477.37 421.98 477.70 425.40 C478.03 428.82 478.18 432.28 478.70 435.70 C479.22 439.12 480.20 443.35 480.80 445.90 C481.40 448.45 481.62 449.30 482.30 451.00 C482.98 452.70 483.88 454.82 484.90 456.10 C485.92 457.38 486.97 457.93 488.40 458.70 C489.83 459.47 491.78 460.05 493.50 460.70 C495.22 461.35 496.98 462.05 498.70 462.60 C500.42 463.15 502.87 463.75 503.80 464.00 C504.73 464.25 504.22 464.08 504.30 464.10 Z" fill="#a6a6a6"/>
<path d="M451.00 464.10 C451.45 464.08 453.00 464.48 453.70 464.00 C454.40 463.52 454.68 462.52 455.20 461.20 C455.72 459.88 456.20 458.65 456.80 456.10 C457.40 453.55 458.22 449.30 458.80 445.90 C459.38 442.50 459.92 439.12 460.30 435.70 C460.68 432.28 460.83 428.82 461.10 425.40 C461.37 421.98 461.67 418.60 461.90 415.20 C462.13 411.80 462.18 408.47 462.50 405.00 C462.82 401.53 463.45 398.23 463.80 394.40 C464.15 390.57 464.22 385.43 464.60 382.00 C464.98 378.57 465.67 376.88 466.10 373.80 C466.53 370.72 466.88 366.13 467.20 363.50 C467.52 360.87 467.67 359.35 468.00 358.00 C468.33 356.65 468.82 355.40 469.20 355.40 C469.58 355.40 469.95 356.65 470.30 358.00 C470.65 359.35 470.92 360.87 471.30 363.50 C471.68 366.13 472.08 368.65 472.60 373.80 C473.12 378.95 473.80 389.20 474.40 394.40 C475.00 399.60 475.73 401.53 476.20 405.00 C476.67 408.47 476.87 411.80 477.20 415.20 C477.53 418.60 477.87 421.98 478.20 425.40 C478.53 428.82 478.68 432.28 479.20 435.70 C479.72 439.12 480.70 443.35 481.30 445.90 C481.90 448.45 482.12 449.30 482.80 451.00 C483.48 452.70 484.38 454.82 485.40 456.10 C486.42 457.38 487.47 457.93 488.90 458.70 C490.33 459.47 492.28 460.05 494.00 460.70 C495.72 461.35 497.48 462.05 499.20 462.60 C500.92 463.15 502.50 463.75 504.30 464.00 C506.10 464.25 509.05 464.08 510.00 464.10" fill="none" stroke="#000" stroke-width="1.2" stroke-linejoin="round"/>
<path d="M452.00 464.10 C452.45 464.08 454.00 464.48 454.70 464.00 C455.40 463.52 455.60 462.52 456.20 461.20 C456.80 459.88 457.53 458.65 458.30 456.10 C459.07 453.55 459.87 451.02 460.80 445.90 C461.73 440.78 463.18 431.40 463.90 425.40 C464.62 419.40 464.60 415.07 465.10 409.90 C465.60 404.73 466.42 399.38 466.90 394.40 C467.38 389.42 467.62 385.15 468.00 380.00 C468.38 374.85 468.83 367.17 469.20 363.50 C469.57 359.83 469.85 359.30 470.20 358.00 C470.55 356.70 471.00 355.70 471.30 355.70 C471.60 355.70 471.75 356.70 472.00 358.00 C472.25 359.30 472.42 359.83 472.80 363.50 C473.18 367.17 473.78 374.85 474.30 380.00 C474.82 385.15 475.42 390.23 475.90 394.40 C476.38 398.57 476.82 401.53 477.20 405.00 C477.58 408.47 477.87 411.80 478.20 415.20 C478.53 418.60 478.87 421.98 479.20 425.40 C479.53 428.82 479.77 432.28 480.20 435.70 C480.63 439.12 481.28 443.35 481.80 445.90 C482.32 448.45 482.60 449.30 483.30 451.00 C484.00 452.70 484.97 454.82 486.00 456.10 C487.03 457.38 488.00 457.93 489.50 458.70 C491.00 459.47 493.08 460.05 495.00 460.70 C496.92 461.35 499.00 462.05 501.00 462.60 C503.00 463.15 505.17 463.75 507.00 464.00 C508.83 464.25 511.17 464.08 512.00 464.10" fill="none" stroke="#cc2626" stroke-width="1.2" stroke-linejoin="round"/>
<line x1="442.20" y1="348.40" x2="559.00" y2="348.40" stroke="#a4a4a4" stroke-width="1.5"/>
<line x1="558.40" y1="348.40" x2="558.40" y2="464.10" stroke="#737373" stroke-width="1.3"/>
<line x1="442.80" y1="348.40" x2="442.80" y2="464.10" stroke="#666" stroke-width="1.4"/>
<line x1="440.20" y1="464.10" x2="559.00" y2="464.10" stroke="#3a3a3a" stroke-width="1.3"/>
<line x1="440.20" y1="353.70" x2="442.80" y2="353.70" stroke="#444" stroke-width="0.9"/>
<line x1="441.60" y1="359.22" x2="442.80" y2="359.22" stroke="#444" stroke-width="0.9"/>
<line x1="441.60" y1="364.74" x2="442.80" y2="364.74" stroke="#444" stroke-width="0.9"/>
<line x1="441.60" y1="370.26" x2="442.80" y2="370.26" stroke="#444" stroke-width="0.9"/>
<line x1="440.20" y1="375.78" x2="442.80" y2="375.78" stroke="#444" stroke-width="0.9"/>
<line x1="441.60" y1="381.30" x2="442.80" y2="381.30" stroke="#444" stroke-width="0.9"/>
<line x1="441.60" y1="386.82" x2="442.80" y2="386.82" stroke="#444" stroke-width="0.9"/>
<line x1="441.60" y1="392.34" x2="442.80" y2="392.34" stroke="#444" stroke-width="0.9"/>
<line x1="440.20" y1="397.86" x2="442.80" y2="397.86" stroke="#444" stroke-width="0.9"/>
<line x1="441.60" y1="403.38" x2="442.80" y2="403.38" stroke="#444" stroke-width="0.9"/>
<line x1="441.60" y1="408.90" x2="442.80" y2="408.90" stroke="#444" stroke-width="0.9"/>
<line x1="441.60" y1="414.42" x2="442.80" y2="414.42" stroke="#444" stroke-width="0.9"/>
<line x1="440.20" y1="419.94" x2="442.80" y2="419.94" stroke="#444" stroke-width="0.9"/>
<line x1="441.60" y1="425.46" x2="442.80" y2="425.46" stroke="#444" stroke-width="0.9"/>
<line x1="441.60" y1="430.98" x2="442.80" y2="430.98" stroke="#444" stroke-width="0.9"/>
<line x1="441.60" y1="436.50" x2="442.80" y2="436.50" stroke="#444" stroke-width="0.9"/>
<line x1="440.20" y1="442.02" x2="442.80" y2="442.02" stroke="#444" stroke-width="0.9"/>
<line x1="441.60" y1="447.54" x2="442.80" y2="447.54" stroke="#444" stroke-width="0.9"/>
<line x1="441.60" y1="453.06" x2="442.80" y2="453.06" stroke="#444" stroke-width="0.9"/>
<line x1="441.60" y1="458.58" x2="442.80" y2="458.58" stroke="#444" stroke-width="0.9"/>
<line x1="444.00" y1="464.10" x2="444.00" y2="465.70" stroke="#444" stroke-width="0.8"/>
<line x1="446.00" y1="464.10" x2="446.00" y2="465.70" stroke="#444" stroke-width="0.8"/>
<line x1="448.00" y1="464.10" x2="448.00" y2="465.70" stroke="#444" stroke-width="0.8"/>
<line x1="450.00" y1="464.10" x2="450.00" y2="465.70" stroke="#444" stroke-width="0.8"/>
<line x1="452.00" y1="464.10" x2="452.00" y2="465.70" stroke="#444" stroke-width="0.8"/>
<line x1="454.00" y1="464.10" x2="454.00" y2="465.70" stroke="#444" stroke-width="0.8"/>
<line x1="456.00" y1="464.10" x2="456.00" y2="465.70" stroke="#444" stroke-width="0.8"/>
<line x1="458.00" y1="464.10" x2="458.00" y2="465.70" stroke="#444" stroke-width="0.8"/>
<line x1="455.10" y1="464.10" x2="455.10" y2="466.90" stroke="#444" stroke-width="0.8"/>
<line x1="469.40" y1="464.10" x2="469.40" y2="466.90" stroke="#444" stroke-width="0.8"/>
<line x1="477.23" y1="464.10" x2="477.23" y2="465.70" stroke="#444" stroke-width="0.8"/>
<line x1="481.81" y1="464.10" x2="481.81" y2="465.70" stroke="#444" stroke-width="0.8"/>
<line x1="485.05" y1="464.10" x2="485.05" y2="465.70" stroke="#444" stroke-width="0.8"/>
<line x1="487.57" y1="464.10" x2="487.57" y2="465.70" stroke="#444" stroke-width="0.8"/>
<line x1="489.63" y1="464.10" x2="489.63" y2="465.70" stroke="#444" stroke-width="0.8"/>
<line x1="491.37" y1="464.10" x2="491.37" y2="465.70" stroke="#444" stroke-width="0.8"/>
<line x1="492.88" y1="464.10" x2="492.88" y2="465.70" stroke="#444" stroke-width="0.8"/>
<line x1="494.21" y1="464.10" x2="494.21" y2="465.70" stroke="#444" stroke-width="0.8"/>
<line x1="495.40" y1="464.10" x2="495.40" y2="466.90" stroke="#444" stroke-width="0.8"/>
<line x1="503.23" y1="464.10" x2="503.23" y2="465.70" stroke="#444" stroke-width="0.8"/>
<line x1="507.81" y1="464.10" x2="507.81" y2="465.70" stroke="#444" stroke-width="0.8"/>
<line x1="511.05" y1="464.10" x2="511.05" y2="465.70" stroke="#444" stroke-width="0.8"/>
<line x1="513.57" y1="464.10" x2="513.57" y2="465.70" stroke="#444" stroke-width="0.8"/>
<line x1="515.63" y1="464.10" x2="515.63" y2="465.70" stroke="#444" stroke-width="0.8"/>
<line x1="517.37" y1="464.10" x2="517.37" y2="465.70" stroke="#444" stroke-width="0.8"/>
<line x1="518.88" y1="464.10" x2="518.88" y2="465.70" stroke="#444" stroke-width="0.8"/>
<line x1="520.21" y1="464.10" x2="520.21" y2="465.70" stroke="#444" stroke-width="0.8"/>
<line x1="521.40" y1="464.10" x2="521.40" y2="466.90" stroke="#444" stroke-width="0.8"/>
<line x1="529.23" y1="464.10" x2="529.23" y2="465.70" stroke="#444" stroke-width="0.8"/>
<line x1="533.81" y1="464.10" x2="533.81" y2="465.70" stroke="#444" stroke-width="0.8"/>
<line x1="537.05" y1="464.10" x2="537.05" y2="465.70" stroke="#444" stroke-width="0.8"/>
<line x1="539.57" y1="464.10" x2="539.57" y2="465.70" stroke="#444" stroke-width="0.8"/>
<line x1="541.63" y1="464.10" x2="541.63" y2="465.70" stroke="#444" stroke-width="0.8"/>
<line x1="543.37" y1="464.10" x2="543.37" y2="465.70" stroke="#444" stroke-width="0.8"/>
<line x1="544.88" y1="464.10" x2="544.88" y2="465.70" stroke="#444" stroke-width="0.8"/>
<line x1="546.21" y1="464.10" x2="546.21" y2="465.70" stroke="#444" stroke-width="0.8"/>
<line x1="547.40" y1="464.10" x2="547.40" y2="466.90" stroke="#444" stroke-width="0.8"/>
<line x1="555.23" y1="464.10" x2="555.23" y2="465.70" stroke="#444" stroke-width="0.8"/>
<g class="tl" font-size="6.6" fill="#444" text-anchor="middle">
<text x="455.10" y="477.00">0</text>
<text x="468.30" y="477.00">10<tspan font-size="4.9" dy="-2.9">2</tspan></text>
<text x="495.80" y="477.00">10<tspan font-size="4.9" dy="-2.9">3</tspan></text>
<text x="522.40" y="477.00">10<tspan font-size="4.9" dy="-2.9">4</tspan></text>
<text x="547.80" y="477.00">10<tspan font-size="4.9" dy="-2.9">5</tspan></text>
</g>
<rect x="44.70" y="500.50" width="117.90" height="118.60" fill="#fff" stroke="none"/>
<path d="M89.00 619.10 C89.67 619.07 91.30 619.37 93.00 618.90 C94.70 618.43 97.32 617.25 99.20 616.30 C101.08 615.35 102.68 614.38 104.30 613.20 C105.92 612.02 107.62 610.55 108.90 609.20 C110.18 607.85 110.90 606.47 112.00 605.10 C113.10 603.73 114.40 602.53 115.50 601.00 C116.60 599.47 117.67 597.60 118.60 595.90 C119.53 594.20 120.42 592.50 121.10 590.80 C121.78 589.10 122.02 588.27 122.70 585.70 C123.38 583.13 124.43 578.82 125.20 575.40 C125.97 571.98 126.75 568.27 127.30 565.20 C127.85 562.13 128.12 560.28 128.50 557.00 C128.88 553.72 129.07 549.70 129.60 545.50 C130.13 541.30 130.97 536.35 131.70 531.80 C132.43 527.25 133.32 521.50 134.00 518.20 C134.68 514.90 135.25 513.52 135.80 512.00 C136.35 510.48 136.85 509.10 137.30 509.10 C137.75 509.10 138.13 510.48 138.50 512.00 C138.87 513.52 139.13 514.90 139.50 518.20 C139.87 521.50 140.32 527.25 140.70 531.80 C141.08 536.35 141.48 541.63 141.80 545.50 C142.12 549.37 142.30 550.02 142.60 555.00 C142.90 559.98 143.17 568.58 143.60 575.40 C144.03 582.22 144.68 590.27 145.20 595.90 C145.72 601.53 146.20 605.80 146.70 609.20 C147.20 612.60 147.60 614.68 148.20 616.30 C148.80 617.92 149.83 618.43 150.30 618.90 C150.77 619.37 150.88 619.07 151.00 619.10 Z" fill="#a6a6a6"/>
<path d="M86.00 619.10 C87.00 619.07 89.97 619.37 92.00 618.90 C94.03 618.43 96.32 617.25 98.20 616.30 C100.08 615.35 101.68 614.38 103.30 613.20 C104.92 612.02 106.62 610.55 107.90 609.20 C109.18 607.85 109.90 606.47 111.00 605.10 C112.10 603.73 113.40 602.53 114.50 601.00 C115.60 599.47 116.67 597.60 117.60 595.90 C118.53 594.20 119.42 592.50 120.10 590.80 C120.78 589.10 121.02 588.27 121.70 585.70 C122.38 583.13 123.43 578.82 124.20 575.40 C124.97 571.98 125.75 568.27 126.30 565.20 C126.85 562.13 127.12 560.28 127.50 557.00 C127.88 553.72 128.07 549.70 128.60 545.50 C129.13 541.30 129.93 536.35 130.70 531.80 C131.47 527.25 132.52 521.67 133.20 518.20 C133.88 514.73 134.27 512.75 134.80 511.00 C135.33 509.25 135.95 507.70 136.40 507.70 C136.85 507.70 137.13 509.25 137.50 511.00 C137.87 512.75 138.10 514.73 138.60 518.20 C139.10 521.67 139.97 527.25 140.50 531.80 C141.03 536.35 141.42 541.10 141.80 545.50 C142.18 549.90 142.40 553.22 142.80 558.20 C143.20 563.18 143.72 569.12 144.20 575.40 C144.68 581.68 145.12 590.27 145.70 595.90 C146.28 601.53 147.18 606.32 147.70 609.20 C148.22 612.08 148.37 612.02 148.80 613.20 C149.23 614.38 149.72 615.35 150.30 616.30 C150.88 617.25 151.52 618.43 152.30 618.90 C153.08 619.37 154.55 619.07 155.00 619.10" fill="none" stroke="#cc2626" stroke-width="1.2" stroke-linejoin="round"/>
<path d="M88.00 619.10 C89.35 619.07 93.55 619.37 96.10 618.90 C98.65 618.43 101.08 617.25 103.30 616.30 C105.52 615.35 107.53 614.38 109.40 613.20 C111.27 612.02 112.88 610.55 114.50 609.20 C116.12 607.85 117.73 606.47 119.10 605.10 C120.47 603.73 121.58 602.53 122.70 601.00 C123.82 599.47 124.87 597.60 125.80 595.90 C126.73 594.20 127.62 592.50 128.30 590.80 C128.98 589.10 129.38 588.27 129.90 585.70 C130.42 583.13 130.90 578.82 131.40 575.40 C131.90 571.98 132.50 568.27 132.90 565.20 C133.30 562.13 133.37 560.28 133.80 557.00 C134.23 553.72 135.00 549.70 135.50 545.50 C136.00 541.30 136.35 536.35 136.80 531.80 C137.25 527.25 137.82 521.50 138.20 518.20 C138.58 514.90 138.72 513.53 139.10 512.00 C139.48 510.47 140.02 509.67 140.50 509.00 C140.98 508.33 141.45 507.83 142.00 508.00 C142.55 508.17 143.38 508.30 143.80 510.00 C144.22 511.70 144.20 514.57 144.50 518.20 C144.80 521.83 145.27 527.25 145.60 531.80 C145.93 536.35 146.23 541.10 146.50 545.50 C146.77 549.90 146.92 553.22 147.20 558.20 C147.48 563.18 147.68 569.12 148.20 575.40 C148.72 581.68 149.62 590.27 150.30 595.90 C150.98 601.53 151.62 605.80 152.30 609.20 C152.98 612.60 153.72 614.68 154.40 616.30 C155.08 617.92 155.63 618.43 156.40 618.90 C157.17 619.37 158.57 619.07 159.00 619.10" fill="none" stroke="#000" stroke-width="1.2" stroke-linejoin="round"/>
<line x1="44.10" y1="500.50" x2="163.20" y2="500.50" stroke="#a4a4a4" stroke-width="1.5"/>
<line x1="162.60" y1="500.50" x2="162.60" y2="619.10" stroke="#737373" stroke-width="1.3"/>
<line x1="44.70" y1="500.50" x2="44.70" y2="619.10" stroke="#666" stroke-width="1.4"/>
<line x1="42.10" y1="619.10" x2="163.20" y2="619.10" stroke="#3a3a3a" stroke-width="1.3"/>
<line x1="42.10" y1="505.80" x2="44.70" y2="505.80" stroke="#444" stroke-width="0.9"/>
<line x1="43.50" y1="511.47" x2="44.70" y2="511.47" stroke="#444" stroke-width="0.9"/>
<line x1="43.50" y1="517.13" x2="44.70" y2="517.13" stroke="#444" stroke-width="0.9"/>
<line x1="43.50" y1="522.80" x2="44.70" y2="522.80" stroke="#444" stroke-width="0.9"/>
<line x1="42.10" y1="528.46" x2="44.70" y2="528.46" stroke="#444" stroke-width="0.9"/>
<line x1="43.50" y1="534.12" x2="44.70" y2="534.12" stroke="#444" stroke-width="0.9"/>
<line x1="43.50" y1="539.79" x2="44.70" y2="539.79" stroke="#444" stroke-width="0.9"/>
<line x1="43.50" y1="545.46" x2="44.70" y2="545.46" stroke="#444" stroke-width="0.9"/>
<line x1="42.10" y1="551.12" x2="44.70" y2="551.12" stroke="#444" stroke-width="0.9"/>
<line x1="43.50" y1="556.78" x2="44.70" y2="556.78" stroke="#444" stroke-width="0.9"/>
<line x1="43.50" y1="562.45" x2="44.70" y2="562.45" stroke="#444" stroke-width="0.9"/>
<line x1="43.50" y1="568.12" x2="44.70" y2="568.12" stroke="#444" stroke-width="0.9"/>
<line x1="42.10" y1="573.78" x2="44.70" y2="573.78" stroke="#444" stroke-width="0.9"/>
<line x1="43.50" y1="579.45" x2="44.70" y2="579.45" stroke="#444" stroke-width="0.9"/>
<line x1="43.50" y1="585.11" x2="44.70" y2="585.11" stroke="#444" stroke-width="0.9"/>
<line x1="43.50" y1="590.77" x2="44.70" y2="590.77" stroke="#444" stroke-width="0.9"/>
<line x1="42.10" y1="596.44" x2="44.70" y2="596.44" stroke="#444" stroke-width="0.9"/>
<line x1="43.50" y1="602.11" x2="44.70" y2="602.11" stroke="#444" stroke-width="0.9"/>
<line x1="43.50" y1="607.77" x2="44.70" y2="607.77" stroke="#444" stroke-width="0.9"/>
<line x1="43.50" y1="613.44" x2="44.70" y2="613.44" stroke="#444" stroke-width="0.9"/>
<line x1="45.90" y1="619.10" x2="45.90" y2="620.70" stroke="#444" stroke-width="0.8"/>
<line x1="47.90" y1="619.10" x2="47.90" y2="620.70" stroke="#444" stroke-width="0.8"/>
<line x1="49.90" y1="619.10" x2="49.90" y2="620.70" stroke="#444" stroke-width="0.8"/>
<line x1="51.90" y1="619.10" x2="51.90" y2="620.70" stroke="#444" stroke-width="0.8"/>
<line x1="53.90" y1="619.10" x2="53.90" y2="620.70" stroke="#444" stroke-width="0.8"/>
<line x1="55.90" y1="619.10" x2="55.90" y2="620.70" stroke="#444" stroke-width="0.8"/>
<line x1="57.90" y1="619.10" x2="57.90" y2="620.70" stroke="#444" stroke-width="0.8"/>
<line x1="57.00" y1="619.10" x2="57.00" y2="621.90" stroke="#444" stroke-width="0.8"/>
<line x1="69.15" y1="619.10" x2="69.15" y2="621.90" stroke="#444" stroke-width="0.8"/>
<line x1="77.29" y1="619.10" x2="77.29" y2="620.70" stroke="#444" stroke-width="0.8"/>
<line x1="82.06" y1="619.10" x2="82.06" y2="620.70" stroke="#444" stroke-width="0.8"/>
<line x1="85.44" y1="619.10" x2="85.44" y2="620.70" stroke="#444" stroke-width="0.8"/>
<line x1="88.06" y1="619.10" x2="88.06" y2="620.70" stroke="#444" stroke-width="0.8"/>
<line x1="90.20" y1="619.10" x2="90.20" y2="620.70" stroke="#444" stroke-width="0.8"/>
<line x1="92.01" y1="619.10" x2="92.01" y2="620.70" stroke="#444" stroke-width="0.8"/>
<line x1="93.58" y1="619.10" x2="93.58" y2="620.70" stroke="#444" stroke-width="0.8"/>
<line x1="94.96" y1="619.10" x2="94.96" y2="620.70" stroke="#444" stroke-width="0.8"/>
<line x1="96.20" y1="619.10" x2="96.20" y2="621.90" stroke="#444" stroke-width="0.8"/>
<line x1="104.34" y1="619.10" x2="104.34" y2="620.70" stroke="#444" stroke-width="0.8"/>
<line x1="109.11" y1="619.10" x2="109.11" y2="620.70" stroke="#444" stroke-width="0.8"/>
<line x1="112.49" y1="619.10" x2="112.49" y2="620.70" stroke="#444" stroke-width="0.8"/>
<line x1="115.11" y1="619.10" x2="115.11" y2="620.70" stroke="#444" stroke-width="0.8"/>
<line x1="117.25" y1="619.10" x2="117.25" y2="620.70" stroke="#444" stroke-width="0.8"/>
<line x1="119.06" y1="619.10" x2="119.06" y2="620.70" stroke="#444" stroke-width="0.8"/>
<line x1="120.63" y1="619.10" x2="120.63" y2="620.70" stroke="#444" stroke-width="0.8"/>
<line x1="122.01" y1="619.10" x2="122.01" y2="620.70" stroke="#444" stroke-width="0.8"/>
<line x1="123.25" y1="619.10" x2="123.25" y2="621.90" stroke="#444" stroke-width="0.8"/>
<line x1="131.39" y1="619.10" x2="131.39" y2="620.70" stroke="#444" stroke-width="0.8"/>
<line x1="136.16" y1="619.10" x2="136.16" y2="620.70" stroke="#444" stroke-width="0.8"/>
<line x1="139.54" y1="619.10" x2="139.54" y2="620.70" stroke="#444" stroke-width="0.8"/>
<line x1="142.16" y1="619.10" x2="142.16" y2="620.70" stroke="#444" stroke-width="0.8"/>
<line x1="144.30" y1="619.10" x2="144.30" y2="620.70" stroke="#444" stroke-width="0.8"/>
<line x1="146.11" y1="619.10" x2="146.11" y2="620.70" stroke="#444" stroke-width="0.8"/>
<line x1="147.68" y1="619.10" x2="147.68" y2="620.70" stroke="#444" stroke-width="0.8"/>
<line x1="149.06" y1="619.10" x2="149.06" y2="620.70" stroke="#444" stroke-width="0.8"/>
<line x1="150.30" y1="619.10" x2="150.30" y2="621.90" stroke="#444" stroke-width="0.8"/>
<line x1="158.44" y1="619.10" x2="158.44" y2="620.70" stroke="#444" stroke-width="0.8"/>
<g class="tl" font-size="6.6" fill="#444" text-anchor="middle">
<text x="57.00" y="632.00">0</text>
<text x="69.00" y="632.00">10<tspan font-size="4.9" dy="-2.9">2</tspan></text>
<text x="96.60" y="632.00">10<tspan font-size="4.9" dy="-2.9">3</tspan></text>
<text x="124.20" y="632.00">10<tspan font-size="4.9" dy="-2.9">4</tspan></text>
<text x="150.70" y="632.00">10<tspan font-size="4.9" dy="-2.9">5</tspan></text>
</g>
<rect x="176.40" y="500.50" width="117.70" height="118.30" fill="#fff" stroke="none"/>
<path d="M185.20 618.80 C185.40 618.70 185.97 618.82 186.40 618.20 C186.83 617.58 187.28 616.97 187.80 615.10 C188.32 613.23 189.05 609.68 189.50 607.00 C189.95 604.32 190.18 601.83 190.50 599.00 C190.82 596.17 191.15 593.37 191.40 590.00 C191.65 586.63 191.80 583.63 192.00 578.80 C192.20 573.97 192.32 567.27 192.60 561.00 C192.88 554.73 193.27 547.93 193.70 541.20 C194.13 534.47 194.75 525.13 195.20 520.60 C195.65 516.07 196.08 515.35 196.40 514.00 C196.72 512.65 196.87 512.50 197.10 512.50 C197.33 512.50 197.55 512.65 197.80 514.00 C198.05 515.35 198.20 516.07 198.60 520.60 C199.00 525.13 199.72 534.47 200.20 541.20 C200.68 547.93 201.17 554.73 201.50 561.00 C201.83 567.27 201.90 573.97 202.20 578.80 C202.50 583.63 202.97 586.63 203.30 590.00 C203.63 593.37 203.83 596.17 204.20 599.00 C204.57 601.83 204.92 604.32 205.50 607.00 C206.08 609.68 207.03 613.30 207.70 615.10 C208.37 616.90 208.92 617.18 209.50 617.80 C210.08 618.42 210.92 618.63 211.20 618.80 Z" fill="#a6a6a6"/>
<path d="M182.90 618.80 C183.10 618.70 183.67 618.82 184.10 618.20 C184.53 617.58 184.92 616.97 185.50 615.10 C186.08 613.23 187.05 609.68 187.60 607.00 C188.15 604.32 188.42 601.83 188.80 599.00 C189.18 596.17 189.57 593.37 189.90 590.00 C190.23 586.63 190.50 583.63 190.80 578.80 C191.10 573.97 191.37 567.27 191.70 561.00 C192.03 554.73 192.35 547.93 192.80 541.20 C193.25 534.47 193.93 525.13 194.40 520.60 C194.87 516.07 195.23 515.43 195.60 514.00 C195.97 512.57 196.15 512.00 196.60 512.00 C197.05 512.00 197.77 512.57 198.30 514.00 C198.83 515.43 199.23 516.07 199.80 520.60 C200.37 525.13 201.08 534.47 201.70 541.20 C202.32 547.93 203.07 554.73 203.50 561.00 C203.93 567.27 204.00 573.97 204.30 578.80 C204.60 583.63 205.00 586.63 205.30 590.00 C205.60 593.37 205.70 596.17 206.10 599.00 C206.50 601.83 207.03 604.32 207.70 607.00 C208.37 609.68 209.38 613.30 210.10 615.10 C210.82 616.90 211.37 617.18 212.00 617.80 C212.63 618.42 213.58 618.63 213.90 618.80" fill="none" stroke="#cc2626" stroke-width="1.2" stroke-linejoin="round"/>
<path d="M183.20 618.80 C183.40 618.70 183.97 618.82 184.40 618.20 C184.83 617.58 185.22 616.97 185.80 615.10 C186.38 613.23 187.35 609.68 187.90 607.00 C188.45 604.32 188.72 601.83 189.10 599.00 C189.48 596.17 189.88 593.37 190.20 590.00 C190.52 586.63 190.72 583.63 191.00 578.80 C191.28 573.97 191.57 567.27 191.90 561.00 C192.23 554.73 192.55 547.93 193.00 541.20 C193.45 534.47 194.13 525.97 194.60 520.60 C195.07 515.23 195.38 511.20 195.80 509.00 C196.22 506.80 196.67 507.40 197.10 507.40 C197.53 507.40 198.05 506.80 198.40 509.00 C198.75 511.20 198.77 515.23 199.20 520.60 C199.63 525.97 200.43 534.47 201.00 541.20 C201.57 547.93 202.22 554.73 202.60 561.00 C202.98 567.27 203.02 573.97 203.30 578.80 C203.58 583.63 204.00 586.63 204.30 590.00 C204.60 593.37 204.70 596.17 205.10 599.00 C205.50 601.83 206.03 604.32 206.70 607.00 C207.37 609.68 208.38 613.30 209.10 615.10 C209.82 616.90 210.37 617.18 211.00 617.80 C211.63 618.42 212.58 618.63 212.90 618.80" fill="none" stroke="#000" stroke-width="1.2" stroke-linejoin="round"/>
<line x1="175.80" y1="500.50" x2="294.70" y2="500.50" stroke="#a4a4a4" stroke-width="1.5"/>
<line x1="294.10" y1="500.50" x2="294.10" y2="618.80" stroke="#737373" stroke-width="1.3"/>
<line x1="176.40" y1="500.50" x2="176.40" y2="618.80" stroke="#666" stroke-width="1.4"/>
<line x1="173.80" y1="618.80" x2="294.70" y2="618.80" stroke="#3a3a3a" stroke-width="1.3"/>
<line x1="173.80" y1="505.80" x2="176.40" y2="505.80" stroke="#444" stroke-width="0.9"/>
<line x1="175.20" y1="511.45" x2="176.40" y2="511.45" stroke="#444" stroke-width="0.9"/>
<line x1="175.20" y1="517.10" x2="176.40" y2="517.10" stroke="#444" stroke-width="0.9"/>
<line x1="175.20" y1="522.75" x2="176.40" y2="522.75" stroke="#444" stroke-width="0.9"/>
<line x1="173.80" y1="528.40" x2="176.40" y2="528.40" stroke="#444" stroke-width="0.9"/>
<line x1="175.20" y1="534.05" x2="176.40" y2="534.05" stroke="#444" stroke-width="0.9"/>
<line x1="175.20" y1="539.70" x2="176.40" y2="539.70" stroke="#444" stroke-width="0.9"/>
<line x1="175.20" y1="545.35" x2="176.40" y2="545.35" stroke="#444" stroke-width="0.9"/>
<line x1="173.80" y1="551.00" x2="176.40" y2="551.00" stroke="#444" stroke-width="0.9"/>
<line x1="175.20" y1="556.65" x2="176.40" y2="556.65" stroke="#444" stroke-width="0.9"/>
<line x1="175.20" y1="562.30" x2="176.40" y2="562.30" stroke="#444" stroke-width="0.9"/>
<line x1="175.20" y1="567.95" x2="176.40" y2="567.95" stroke="#444" stroke-width="0.9"/>
<line x1="173.80" y1="573.60" x2="176.40" y2="573.60" stroke="#444" stroke-width="0.9"/>
<line x1="175.20" y1="579.25" x2="176.40" y2="579.25" stroke="#444" stroke-width="0.9"/>
<line x1="175.20" y1="584.90" x2="176.40" y2="584.90" stroke="#444" stroke-width="0.9"/>
<line x1="175.20" y1="590.55" x2="176.40" y2="590.55" stroke="#444" stroke-width="0.9"/>
<line x1="173.80" y1="596.20" x2="176.40" y2="596.20" stroke="#444" stroke-width="0.9"/>
<line x1="175.20" y1="601.85" x2="176.40" y2="601.85" stroke="#444" stroke-width="0.9"/>
<line x1="175.20" y1="607.50" x2="176.40" y2="607.50" stroke="#444" stroke-width="0.9"/>
<line x1="175.20" y1="613.15" x2="176.40" y2="613.15" stroke="#444" stroke-width="0.9"/>
<line x1="177.60" y1="618.80" x2="177.60" y2="620.40" stroke="#444" stroke-width="0.8"/>
<line x1="179.60" y1="618.80" x2="179.60" y2="620.40" stroke="#444" stroke-width="0.8"/>
<line x1="181.60" y1="618.80" x2="181.60" y2="620.40" stroke="#444" stroke-width="0.8"/>
<line x1="183.60" y1="618.80" x2="183.60" y2="620.40" stroke="#444" stroke-width="0.8"/>
<line x1="185.60" y1="618.80" x2="185.60" y2="620.40" stroke="#444" stroke-width="0.8"/>
<line x1="187.60" y1="618.80" x2="187.60" y2="620.40" stroke="#444" stroke-width="0.8"/>
<line x1="189.60" y1="618.80" x2="189.60" y2="620.40" stroke="#444" stroke-width="0.8"/>
<line x1="191.60" y1="618.80" x2="191.60" y2="620.40" stroke="#444" stroke-width="0.8"/>
<line x1="189.50" y1="618.80" x2="189.50" y2="621.60" stroke="#444" stroke-width="0.8"/>
<line x1="204.45" y1="618.80" x2="204.45" y2="621.60" stroke="#444" stroke-width="0.8"/>
<line x1="212.59" y1="618.80" x2="212.59" y2="620.40" stroke="#444" stroke-width="0.8"/>
<line x1="217.36" y1="618.80" x2="217.36" y2="620.40" stroke="#444" stroke-width="0.8"/>
<line x1="220.74" y1="618.80" x2="220.74" y2="620.40" stroke="#444" stroke-width="0.8"/>
<line x1="223.36" y1="618.80" x2="223.36" y2="620.40" stroke="#444" stroke-width="0.8"/>
<line x1="225.50" y1="618.80" x2="225.50" y2="620.40" stroke="#444" stroke-width="0.8"/>
<line x1="227.31" y1="618.80" x2="227.31" y2="620.40" stroke="#444" stroke-width="0.8"/>
<line x1="228.88" y1="618.80" x2="228.88" y2="620.40" stroke="#444" stroke-width="0.8"/>
<line x1="230.26" y1="618.80" x2="230.26" y2="620.40" stroke="#444" stroke-width="0.8"/>
<line x1="231.50" y1="618.80" x2="231.50" y2="621.60" stroke="#444" stroke-width="0.8"/>
<line x1="239.64" y1="618.80" x2="239.64" y2="620.40" stroke="#444" stroke-width="0.8"/>
<line x1="244.41" y1="618.80" x2="244.41" y2="620.40" stroke="#444" stroke-width="0.8"/>
<line x1="247.79" y1="618.80" x2="247.79" y2="620.40" stroke="#444" stroke-width="0.8"/>
<line x1="250.41" y1="618.80" x2="250.41" y2="620.40" stroke="#444" stroke-width="0.8"/>
<line x1="252.55" y1="618.80" x2="252.55" y2="620.40" stroke="#444" stroke-width="0.8"/>
<line x1="254.36" y1="618.80" x2="254.36" y2="620.40" stroke="#444" stroke-width="0.8"/>
<line x1="255.93" y1="618.80" x2="255.93" y2="620.40" stroke="#444" stroke-width="0.8"/>
<line x1="257.31" y1="618.80" x2="257.31" y2="620.40" stroke="#444" stroke-width="0.8"/>
<line x1="258.55" y1="618.80" x2="258.55" y2="621.60" stroke="#444" stroke-width="0.8"/>
<line x1="266.69" y1="618.80" x2="266.69" y2="620.40" stroke="#444" stroke-width="0.8"/>
<line x1="271.46" y1="618.80" x2="271.46" y2="620.40" stroke="#444" stroke-width="0.8"/>
<line x1="274.84" y1="618.80" x2="274.84" y2="620.40" stroke="#444" stroke-width="0.8"/>
<line x1="277.46" y1="618.80" x2="277.46" y2="620.40" stroke="#444" stroke-width="0.8"/>
<line x1="279.60" y1="618.80" x2="279.60" y2="620.40" stroke="#444" stroke-width="0.8"/>
<line x1="281.41" y1="618.80" x2="281.41" y2="620.40" stroke="#444" stroke-width="0.8"/>
<line x1="282.98" y1="618.80" x2="282.98" y2="620.40" stroke="#444" stroke-width="0.8"/>
<line x1="284.36" y1="618.80" x2="284.36" y2="620.40" stroke="#444" stroke-width="0.8"/>
<line x1="285.60" y1="618.80" x2="285.60" y2="621.60" stroke="#444" stroke-width="0.8"/>
<line x1="293.74" y1="618.80" x2="293.74" y2="620.40" stroke="#444" stroke-width="0.8"/>
<g class="tl" font-size="6.6" fill="#444" text-anchor="middle">
<text x="189.50" y="631.70">0</text>
<text x="202.20" y="631.70">10<tspan font-size="4.9" dy="-2.9">2</tspan></text>
<text x="231.90" y="631.70">10<tspan font-size="4.9" dy="-2.9">3</tspan></text>
<text x="259.10" y="631.70">10<tspan font-size="4.9" dy="-2.9">4</tspan></text>
<text x="286.00" y="631.70">10<tspan font-size="4.9" dy="-2.9">5</tspan></text>
</g>
<rect x="309.60" y="499.40" width="117.30" height="119.30" fill="#fff" stroke="none"/>
<path d="M319.80 618.30 C320.00 618.22 320.52 618.60 321.00 617.80 C321.48 617.00 322.22 615.30 322.70 613.50 C323.18 611.70 323.55 609.42 323.90 607.00 C324.25 604.58 324.45 603.70 324.80 599.00 C325.15 594.30 325.52 585.22 326.00 578.80 C326.48 572.38 327.25 566.93 327.70 560.50 C328.15 554.07 328.32 547.02 328.70 540.20 C329.08 533.38 329.62 523.97 330.00 519.60 C330.38 515.23 330.73 515.18 331.00 514.00 C331.27 512.82 331.40 512.50 331.60 512.50 C331.80 512.50 331.95 512.82 332.20 514.00 C332.45 515.18 332.63 515.23 333.10 519.60 C333.57 523.97 334.52 533.38 335.00 540.20 C335.48 547.02 335.53 554.07 336.00 560.50 C336.47 566.93 337.22 572.38 337.80 578.80 C338.38 585.22 339.02 594.30 339.50 599.00 C339.98 603.70 340.05 604.58 340.70 607.00 C341.35 609.42 342.55 611.75 343.40 613.50 C344.25 615.25 345.07 616.70 345.80 617.50 C346.53 618.30 347.47 618.17 347.80 618.30 Z" fill="#a6a6a6"/>
<path d="M318.00 618.30 C318.25 618.22 318.88 618.60 319.50 617.80 C320.12 617.00 321.13 615.30 321.70 613.50 C322.27 611.70 322.55 609.42 322.90 607.00 C323.25 604.58 323.42 603.70 323.80 599.00 C324.18 594.30 324.68 585.22 325.20 578.80 C325.72 572.38 326.45 566.93 326.90 560.50 C327.35 554.07 327.50 547.02 327.90 540.20 C328.30 533.38 328.87 524.55 329.30 519.60 C329.73 514.65 330.10 512.52 330.50 510.50 C330.90 508.48 331.17 507.50 331.70 507.50 C332.23 507.50 333.15 508.48 333.70 510.50 C334.25 512.52 334.47 514.65 335.00 519.60 C335.53 524.55 336.40 533.38 336.90 540.20 C337.40 547.02 337.50 554.07 338.00 560.50 C338.50 566.93 339.32 572.38 339.90 578.80 C340.48 585.22 341.03 594.30 341.50 599.00 C341.97 603.70 342.02 604.58 342.70 607.00 C343.38 609.42 344.72 611.75 345.60 613.50 C346.48 615.25 347.27 616.70 348.00 617.50 C348.73 618.30 349.67 618.17 350.00 618.30" fill="none" stroke="#cc2626" stroke-width="1.2" stroke-linejoin="round"/>
<path d="M317.80 618.30 C318.05 618.22 318.68 618.60 319.30 617.80 C319.92 617.00 320.93 615.30 321.50 613.50 C322.07 611.70 322.35 609.42 322.70 607.00 C323.05 604.58 323.22 603.70 323.60 599.00 C323.98 594.30 324.48 585.22 325.00 578.80 C325.52 572.38 326.25 566.93 326.70 560.50 C327.15 554.07 327.30 547.02 327.70 540.20 C328.10 533.38 328.67 524.63 329.10 519.60 C329.53 514.57 329.88 512.15 330.30 510.00 C330.72 507.85 331.18 506.70 331.60 506.70 C332.02 506.70 332.42 507.85 332.80 510.00 C333.18 512.15 333.40 514.57 333.90 519.60 C334.40 524.63 335.32 533.38 335.80 540.20 C336.28 547.02 336.32 554.07 336.80 560.50 C337.28 566.93 338.12 572.38 338.70 578.80 C339.28 585.22 339.83 594.30 340.30 599.00 C340.77 603.70 340.82 604.58 341.50 607.00 C342.18 609.42 343.52 611.75 344.40 613.50 C345.28 615.25 346.07 616.70 346.80 617.50 C347.53 618.30 348.47 618.17 348.80 618.30" fill="none" stroke="#000" stroke-width="1.2" stroke-linejoin="round"/>
<line x1="309.00" y1="499.40" x2="427.50" y2="499.40" stroke="#a4a4a4" stroke-width="1.5"/>
<line x1="426.90" y1="499.40" x2="426.90" y2="618.70" stroke="#737373" stroke-width="1.3"/>
<line x1="309.60" y1="499.40" x2="309.60" y2="618.70" stroke="#666" stroke-width="1.4"/>
<line x1="307.00" y1="618.70" x2="427.50" y2="618.70" stroke="#3a3a3a" stroke-width="1.3"/>
<line x1="307.00" y1="504.70" x2="309.60" y2="504.70" stroke="#444" stroke-width="0.9"/>
<line x1="308.40" y1="510.40" x2="309.60" y2="510.40" stroke="#444" stroke-width="0.9"/>
<line x1="308.40" y1="516.10" x2="309.60" y2="516.10" stroke="#444" stroke-width="0.9"/>
<line x1="308.40" y1="521.80" x2="309.60" y2="521.80" stroke="#444" stroke-width="0.9"/>
<line x1="307.00" y1="527.50" x2="309.60" y2="527.50" stroke="#444" stroke-width="0.9"/>
<line x1="308.40" y1="533.20" x2="309.60" y2="533.20" stroke="#444" stroke-width="0.9"/>
<line x1="308.40" y1="538.90" x2="309.60" y2="538.90" stroke="#444" stroke-width="0.9"/>
<line x1="308.40" y1="544.60" x2="309.60" y2="544.60" stroke="#444" stroke-width="0.9"/>
<line x1="307.00" y1="550.30" x2="309.60" y2="550.30" stroke="#444" stroke-width="0.9"/>
<line x1="308.40" y1="556.00" x2="309.60" y2="556.00" stroke="#444" stroke-width="0.9"/>
<line x1="308.40" y1="561.70" x2="309.60" y2="561.70" stroke="#444" stroke-width="0.9"/>
<line x1="308.40" y1="567.40" x2="309.60" y2="567.40" stroke="#444" stroke-width="0.9"/>
<line x1="307.00" y1="573.10" x2="309.60" y2="573.10" stroke="#444" stroke-width="0.9"/>
<line x1="308.40" y1="578.80" x2="309.60" y2="578.80" stroke="#444" stroke-width="0.9"/>
<line x1="308.40" y1="584.50" x2="309.60" y2="584.50" stroke="#444" stroke-width="0.9"/>
<line x1="308.40" y1="590.20" x2="309.60" y2="590.20" stroke="#444" stroke-width="0.9"/>
<line x1="307.00" y1="595.90" x2="309.60" y2="595.90" stroke="#444" stroke-width="0.9"/>
<line x1="308.40" y1="601.60" x2="309.60" y2="601.60" stroke="#444" stroke-width="0.9"/>
<line x1="308.40" y1="607.30" x2="309.60" y2="607.30" stroke="#444" stroke-width="0.9"/>
<line x1="308.40" y1="613.00" x2="309.60" y2="613.00" stroke="#444" stroke-width="0.9"/>
<line x1="310.80" y1="618.70" x2="310.80" y2="620.30" stroke="#444" stroke-width="0.8"/>
<line x1="312.80" y1="618.70" x2="312.80" y2="620.30" stroke="#444" stroke-width="0.8"/>
<line x1="314.80" y1="618.70" x2="314.80" y2="620.30" stroke="#444" stroke-width="0.8"/>
<line x1="316.80" y1="618.70" x2="316.80" y2="620.30" stroke="#444" stroke-width="0.8"/>
<line x1="318.80" y1="618.70" x2="318.80" y2="620.30" stroke="#444" stroke-width="0.8"/>
<line x1="320.80" y1="618.70" x2="320.80" y2="620.30" stroke="#444" stroke-width="0.8"/>
<line x1="322.80" y1="618.70" x2="322.80" y2="620.30" stroke="#444" stroke-width="0.8"/>
<line x1="324.80" y1="618.70" x2="324.80" y2="620.30" stroke="#444" stroke-width="0.8"/>
<line x1="321.90" y1="618.70" x2="321.90" y2="621.50" stroke="#444" stroke-width="0.8"/>
<line x1="336.05" y1="618.70" x2="336.05" y2="621.50" stroke="#444" stroke-width="0.8"/>
<line x1="344.04" y1="618.70" x2="344.04" y2="620.30" stroke="#444" stroke-width="0.8"/>
<line x1="348.72" y1="618.70" x2="348.72" y2="620.30" stroke="#444" stroke-width="0.8"/>
<line x1="352.03" y1="618.70" x2="352.03" y2="620.30" stroke="#444" stroke-width="0.8"/>
<line x1="354.61" y1="618.70" x2="354.61" y2="620.30" stroke="#444" stroke-width="0.8"/>
<line x1="356.71" y1="618.70" x2="356.71" y2="620.30" stroke="#444" stroke-width="0.8"/>
<line x1="358.49" y1="618.70" x2="358.49" y2="620.30" stroke="#444" stroke-width="0.8"/>
<line x1="360.03" y1="618.70" x2="360.03" y2="620.30" stroke="#444" stroke-width="0.8"/>
<line x1="361.39" y1="618.70" x2="361.39" y2="620.30" stroke="#444" stroke-width="0.8"/>
<line x1="362.60" y1="618.70" x2="362.60" y2="621.50" stroke="#444" stroke-width="0.8"/>
<line x1="370.59" y1="618.70" x2="370.59" y2="620.30" stroke="#444" stroke-width="0.8"/>
<line x1="375.27" y1="618.70" x2="375.27" y2="620.30" stroke="#444" stroke-width="0.8"/>
<line x1="378.58" y1="618.70" x2="378.58" y2="620.30" stroke="#444" stroke-width="0.8"/>
<line x1="381.16" y1="618.70" x2="381.16" y2="620.30" stroke="#444" stroke-width="0.8"/>
<line x1="383.26" y1="618.70" x2="383.26" y2="620.30" stroke="#444" stroke-width="0.8"/>
<line x1="385.04" y1="618.70" x2="385.04" y2="620.30" stroke="#444" stroke-width="0.8"/>
<line x1="386.58" y1="618.70" x2="386.58" y2="620.30" stroke="#444" stroke-width="0.8"/>
<line x1="387.94" y1="618.70" x2="387.94" y2="620.30" stroke="#444" stroke-width="0.8"/>
<line x1="389.15" y1="618.70" x2="389.15" y2="621.50" stroke="#444" stroke-width="0.8"/>
<line x1="397.14" y1="618.70" x2="397.14" y2="620.30" stroke="#444" stroke-width="0.8"/>
<line x1="401.82" y1="618.70" x2="401.82" y2="620.30" stroke="#444" stroke-width="0.8"/>
<line x1="405.13" y1="618.70" x2="405.13" y2="620.30" stroke="#444" stroke-width="0.8"/>
<line x1="407.71" y1="618.70" x2="407.71" y2="620.30" stroke="#444" stroke-width="0.8"/>
<line x1="409.81" y1="618.70" x2="409.81" y2="620.30" stroke="#444" stroke-width="0.8"/>
<line x1="411.59" y1="618.70" x2="411.59" y2="620.30" stroke="#444" stroke-width="0.8"/>
<line x1="413.13" y1="618.70" x2="413.13" y2="620.30" stroke="#444" stroke-width="0.8"/>
<line x1="414.49" y1="618.70" x2="414.49" y2="620.30" stroke="#444" stroke-width="0.8"/>
<line x1="415.70" y1="618.70" x2="415.70" y2="621.50" stroke="#444" stroke-width="0.8"/>
<line x1="423.69" y1="618.70" x2="423.69" y2="620.30" stroke="#444" stroke-width="0.8"/>
<g class="tl" font-size="6.6" fill="#444" text-anchor="middle">
<text x="321.90" y="631.60">0</text>
<text x="335.40" y="631.60">10<tspan font-size="4.9" dy="-2.9">2</tspan></text>
<text x="363.00" y="631.60">10<tspan font-size="4.9" dy="-2.9">3</tspan></text>
<text x="390.20" y="631.60">10<tspan font-size="4.9" dy="-2.9">4</tspan></text>
<text x="416.10" y="631.60">10<tspan font-size="4.9" dy="-2.9">5</tspan></text>
</g>
<rect x="441.80" y="501.60" width="117.60" height="117.30" fill="#fff" stroke="none"/>
<path d="M453.00 618.80 C453.53 618.37 455.23 617.48 456.20 616.20 C457.17 614.92 458.03 613.65 458.80 611.10 C459.57 608.55 460.30 604.30 460.80 600.90 C461.30 597.50 461.45 594.12 461.80 590.70 C462.15 587.28 462.55 583.82 462.90 580.40 C463.25 576.98 463.60 573.27 463.90 570.20 C464.20 567.13 464.35 566.83 464.70 562.00 C465.05 557.17 465.52 547.23 466.00 541.20 C466.48 535.17 467.22 529.67 467.60 525.80 C467.98 521.93 468.07 520.13 468.30 518.00 C468.53 515.87 468.77 513.00 469.00 513.00 C469.23 513.00 469.48 516.83 469.70 518.00 C469.92 519.17 470.03 519.57 470.30 520.00 C470.57 520.43 470.85 517.07 471.30 520.60 C471.75 524.13 472.43 534.47 473.00 541.20 C473.57 547.93 474.17 556.17 474.70 561.00 C475.23 565.83 475.73 566.97 476.20 570.20 C476.67 573.43 477.08 576.98 477.50 580.40 C477.92 583.82 478.23 587.28 478.70 590.70 C479.17 594.12 479.70 598.02 480.30 600.90 C480.90 603.78 481.62 606.30 482.30 608.00 C482.98 609.70 483.28 610.10 484.40 611.10 C485.52 612.10 487.38 613.15 489.00 614.00 C490.62 614.85 492.40 615.53 494.10 616.20 C495.80 616.87 498.22 617.57 499.20 618.00 C500.18 618.43 499.87 618.67 500.00 618.80 Z" fill="#a6a6a6"/>
<path d="M448.00 618.80 C448.60 618.37 450.65 617.48 451.60 616.20 C452.55 614.92 453.07 613.65 453.70 611.10 C454.33 608.55 454.93 604.30 455.40 600.90 C455.87 597.50 456.18 594.12 456.50 590.70 C456.82 587.28 457.03 583.82 457.30 580.40 C457.57 576.98 457.88 573.27 458.10 570.20 C458.32 567.13 458.30 566.83 458.60 562.00 C458.90 557.17 459.37 548.10 459.90 541.20 C460.43 534.30 461.28 525.47 461.80 520.60 C462.32 515.73 462.65 513.97 463.00 512.00 C463.35 510.03 463.60 508.97 463.90 508.80 C464.20 508.63 464.52 509.88 464.80 511.00 C465.08 512.12 465.38 513.90 465.60 515.50 C465.82 517.10 465.67 516.32 466.10 520.60 C466.53 524.88 467.50 534.38 468.20 541.20 C468.90 548.02 469.70 556.67 470.30 561.50 C470.90 566.33 471.33 567.05 471.80 570.20 C472.27 573.35 472.63 576.98 473.10 580.40 C473.57 583.82 473.92 587.28 474.60 590.70 C475.28 594.12 475.92 597.50 477.20 600.90 C478.48 604.30 480.52 608.92 482.30 611.10 C484.08 613.28 485.95 613.15 487.90 614.00 C489.85 614.85 491.95 615.53 494.00 616.20 C496.05 616.87 498.37 617.57 500.20 618.00 C502.03 618.43 504.20 618.67 505.00 618.80" fill="none" stroke="#cc2626" stroke-width="1.2" stroke-linejoin="round"/>
<path d="M451.00 618.80 C451.70 618.37 454.07 617.48 455.20 616.20 C456.33 614.92 457.03 613.65 457.80 611.10 C458.57 608.55 459.30 604.30 459.80 600.90 C460.30 597.50 460.45 594.12 460.80 590.70 C461.15 587.28 461.55 583.82 461.90 580.40 C462.25 576.98 462.60 573.27 462.90 570.20 C463.20 567.13 463.35 566.83 463.70 562.00 C464.05 557.17 464.52 547.23 465.00 541.20 C465.48 535.17 466.27 529.67 466.60 525.80 C466.93 521.93 466.87 520.47 467.00 518.00 C467.13 515.53 467.28 512.53 467.40 511.00 C467.52 509.47 467.52 508.80 467.70 508.80 C467.88 508.80 468.23 510.30 468.50 511.00 C468.77 511.70 469.03 513.00 469.30 513.00 C469.57 513.00 469.85 511.70 470.10 511.00 C470.35 510.30 470.58 508.63 470.80 508.80 C471.02 508.97 471.15 510.03 471.40 512.00 C471.65 513.97 471.85 515.73 472.30 520.60 C472.75 525.47 473.53 534.47 474.10 541.20 C474.67 547.93 475.18 556.17 475.70 561.00 C476.22 565.83 476.73 566.97 477.20 570.20 C477.67 573.43 478.08 576.98 478.50 580.40 C478.92 583.82 479.23 587.28 479.70 590.70 C480.17 594.12 480.70 598.02 481.30 600.90 C481.90 603.78 482.62 606.30 483.30 608.00 C483.98 609.70 484.28 610.10 485.40 611.10 C486.52 612.10 488.38 613.15 490.00 614.00 C491.62 614.85 493.40 615.53 495.10 616.20 C496.80 616.87 498.55 617.57 500.20 618.00 C501.85 618.43 504.20 618.67 505.00 618.80" fill="none" stroke="#000" stroke-width="1.2" stroke-linejoin="round"/>
<line x1="441.20" y1="501.60" x2="560.00" y2="501.60" stroke="#a4a4a4" stroke-width="1.5"/>
<line x1="559.40" y1="501.60" x2="559.40" y2="618.90" stroke="#737373" stroke-width="1.3"/>
<line x1="441.80" y1="501.60" x2="441.80" y2="618.90" stroke="#666" stroke-width="1.4"/>
<line x1="439.20" y1="618.90" x2="560.00" y2="618.90" stroke="#3a3a3a" stroke-width="1.3"/>
<line x1="439.20" y1="506.90" x2="441.80" y2="506.90" stroke="#444" stroke-width="0.9"/>
<line x1="440.60" y1="512.50" x2="441.80" y2="512.50" stroke="#444" stroke-width="0.9"/>
<line x1="440.60" y1="518.10" x2="441.80" y2="518.10" stroke="#444" stroke-width="0.9"/>
<line x1="440.60" y1="523.70" x2="441.80" y2="523.70" stroke="#444" stroke-width="0.9"/>
<line x1="439.20" y1="529.30" x2="441.80" y2="529.30" stroke="#444" stroke-width="0.9"/>
<line x1="440.60" y1="534.90" x2="441.80" y2="534.90" stroke="#444" stroke-width="0.9"/>
<line x1="440.60" y1="540.50" x2="441.80" y2="540.50" stroke="#444" stroke-width="0.9"/>
<line x1="440.60" y1="546.10" x2="441.80" y2="546.10" stroke="#444" stroke-width="0.9"/>
<line x1="439.20" y1="551.70" x2="441.80" y2="551.70" stroke="#444" stroke-width="0.9"/>
<line x1="440.60" y1="557.30" x2="441.80" y2="557.30" stroke="#444" stroke-width="0.9"/>
<line x1="440.60" y1="562.90" x2="441.80" y2="562.90" stroke="#444" stroke-width="0.9"/>
<line x1="440.60" y1="568.50" x2="441.80" y2="568.50" stroke="#444" stroke-width="0.9"/>
<line x1="439.20" y1="574.10" x2="441.80" y2="574.10" stroke="#444" stroke-width="0.9"/>
<line x1="440.60" y1="579.70" x2="441.80" y2="579.70" stroke="#444" stroke-width="0.9"/>
<line x1="440.60" y1="585.30" x2="441.80" y2="585.30" stroke="#444" stroke-width="0.9"/>
<line x1="440.60" y1="590.90" x2="441.80" y2="590.90" stroke="#444" stroke-width="0.9"/>
<line x1="439.20" y1="596.50" x2="441.80" y2="596.50" stroke="#444" stroke-width="0.9"/>
<line x1="440.60" y1="602.10" x2="441.80" y2="602.10" stroke="#444" stroke-width="0.9"/>
<line x1="440.60" y1="607.70" x2="441.80" y2="607.70" stroke="#444" stroke-width="0.9"/>
<line x1="440.60" y1="613.30" x2="441.80" y2="613.30" stroke="#444" stroke-width="0.9"/>
<line x1="443.00" y1="618.90" x2="443.00" y2="620.50" stroke="#444" stroke-width="0.8"/>
<line x1="445.00" y1="618.90" x2="445.00" y2="620.50" stroke="#444" stroke-width="0.8"/>
<line x1="447.00" y1="618.90" x2="447.00" y2="620.50" stroke="#444" stroke-width="0.8"/>
<line x1="449.00" y1="618.90" x2="449.00" y2="620.50" stroke="#444" stroke-width="0.8"/>
<line x1="451.00" y1="618.90" x2="451.00" y2="620.50" stroke="#444" stroke-width="0.8"/>
<line x1="453.00" y1="618.90" x2="453.00" y2="620.50" stroke="#444" stroke-width="0.8"/>
<line x1="455.00" y1="618.90" x2="455.00" y2="620.50" stroke="#444" stroke-width="0.8"/>
<line x1="457.00" y1="618.90" x2="457.00" y2="620.50" stroke="#444" stroke-width="0.8"/>
<line x1="454.50" y1="618.90" x2="454.50" y2="621.70" stroke="#444" stroke-width="0.8"/>
<line x1="467.00" y1="618.90" x2="467.00" y2="621.70" stroke="#444" stroke-width="0.8"/>
<line x1="475.25" y1="618.90" x2="475.25" y2="620.50" stroke="#444" stroke-width="0.8"/>
<line x1="480.07" y1="618.90" x2="480.07" y2="620.50" stroke="#444" stroke-width="0.8"/>
<line x1="483.50" y1="618.90" x2="483.50" y2="620.50" stroke="#444" stroke-width="0.8"/>
<line x1="486.15" y1="618.90" x2="486.15" y2="620.50" stroke="#444" stroke-width="0.8"/>
<line x1="488.32" y1="618.90" x2="488.32" y2="620.50" stroke="#444" stroke-width="0.8"/>
<line x1="490.16" y1="618.90" x2="490.16" y2="620.50" stroke="#444" stroke-width="0.8"/>
<line x1="491.74" y1="618.90" x2="491.74" y2="620.50" stroke="#444" stroke-width="0.8"/>
<line x1="493.15" y1="618.90" x2="493.15" y2="620.50" stroke="#444" stroke-width="0.8"/>
<line x1="494.40" y1="618.90" x2="494.40" y2="621.70" stroke="#444" stroke-width="0.8"/>
<line x1="502.65" y1="618.90" x2="502.65" y2="620.50" stroke="#444" stroke-width="0.8"/>
<line x1="507.47" y1="618.90" x2="507.47" y2="620.50" stroke="#444" stroke-width="0.8"/>
<line x1="510.90" y1="618.90" x2="510.90" y2="620.50" stroke="#444" stroke-width="0.8"/>
<line x1="513.55" y1="618.90" x2="513.55" y2="620.50" stroke="#444" stroke-width="0.8"/>
<line x1="515.72" y1="618.90" x2="515.72" y2="620.50" stroke="#444" stroke-width="0.8"/>
<line x1="517.56" y1="618.90" x2="517.56" y2="620.50" stroke="#444" stroke-width="0.8"/>
<line x1="519.14" y1="618.90" x2="519.14" y2="620.50" stroke="#444" stroke-width="0.8"/>
<line x1="520.55" y1="618.90" x2="520.55" y2="620.50" stroke="#444" stroke-width="0.8"/>
<line x1="521.80" y1="618.90" x2="521.80" y2="621.70" stroke="#444" stroke-width="0.8"/>
<line x1="530.05" y1="618.90" x2="530.05" y2="620.50" stroke="#444" stroke-width="0.8"/>
<line x1="534.87" y1="618.90" x2="534.87" y2="620.50" stroke="#444" stroke-width="0.8"/>
<line x1="538.30" y1="618.90" x2="538.30" y2="620.50" stroke="#444" stroke-width="0.8"/>
<line x1="540.95" y1="618.90" x2="540.95" y2="620.50" stroke="#444" stroke-width="0.8"/>
<line x1="543.12" y1="618.90" x2="543.12" y2="620.50" stroke="#444" stroke-width="0.8"/>
<line x1="544.96" y1="618.90" x2="544.96" y2="620.50" stroke="#444" stroke-width="0.8"/>
<line x1="546.54" y1="618.90" x2="546.54" y2="620.50" stroke="#444" stroke-width="0.8"/>
<line x1="547.95" y1="618.90" x2="547.95" y2="620.50" stroke="#444" stroke-width="0.8"/>
<line x1="549.20" y1="618.90" x2="549.20" y2="621.70" stroke="#444" stroke-width="0.8"/>
<line x1="557.45" y1="618.90" x2="557.45" y2="620.50" stroke="#444" stroke-width="0.8"/>
<g class="tl" font-size="6.6" fill="#444" text-anchor="middle">
<text x="454.50" y="631.80">0</text>
<text x="467.20" y="631.80">10<tspan font-size="4.9" dy="-2.9">2</tspan></text>
<text x="494.80" y="631.80">10<tspan font-size="4.9" dy="-2.9">3</tspan></text>
<text x="522.40" y="631.80">10<tspan font-size="4.9" dy="-2.9">4</tspan></text>
<text x="549.60" y="631.80">10<tspan font-size="4.9" dy="-2.9">5</tspan></text>
</g>
</svg>
</body></html>
